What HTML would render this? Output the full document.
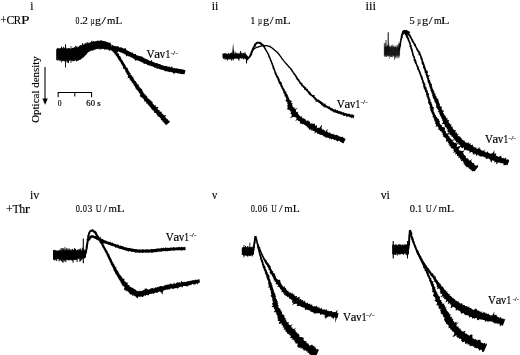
<!DOCTYPE html>
<html><head><meta charset="utf-8"><style>
html,body{margin:0;padding:0;background:#fff;}
body{width:520px;height:355px;overflow:hidden;}
svg{display:block;filter:grayscale(1) blur(0.3px);}
text{fill:#000;}
</style></head><body>
<svg width="520" height="355" viewBox="0 0 520 355" font-family="Liberation Serif, serif">
<rect width="520" height="355" fill="#fff"/>
<g fill="#000" stroke="none">
<path d="M110.33,49.24 L110.90,49.37 L111.18,50.34 L111.92,49.95 L112.39,50.44 L112.97,50.69 L113.75,50.37 L114.08,51.71 L114.88,51.32 L115.52,51.51 L116.24,51.34 L116.55,52.82 L117.35,52.20 L118.17,51.53 L118.78,51.60 L119.33,51.85 L119.93,51.98 L120.41,52.49 L121.13,52.39 L121.74,52.59 L122.21,53.16 L122.86,53.32 L123.57,53.37 L124.03,54.00 L124.59,54.19 L125.16,54.37 L125.64,54.74 L126.05,55.26 L125.96,56.84 L127.19,55.68 L127.81,55.80 L128.25,56.29 L128.81,56.52 L129.49,56.50 L130.16,56.53 L130.43,57.31 L131.00,57.58 L131.78,57.50 L132.37,57.79 L132.87,58.26 L133.54,58.40 L134.01,58.96 L134.49,59.51 L135.17,59.57 L135.21,61.14 L136.22,60.33 L136.88,60.32 L137.51,60.38 L138.07,60.55 L138.66,60.66 L139.08,61.16 L139.75,61.09 L140.26,61.41 L140.82,61.63 L141.37,61.89 L141.73,62.58 L142.51,62.34 L143.00,62.76 L143.58,62.98 L143.68,64.34 L144.67,63.77 L145.37,63.86 L146.06,63.99 L146.76,64.07 L147.09,65.09 L147.87,64.97 L148.48,65.29 L148.99,65.87 L149.84,65.53 L150.52,65.66 L151.14,65.92 L151.75,66.21 L152.46,66.22 L153.09,66.43 L153.57,67.07 L154.21,67.25 L154.69,67.91 L155.44,67.79 L156.24,67.51 L156.60,68.53 L157.11,69.07 L158.01,68.46 L158.69,68.51 L159.17,69.14 L159.92,68.93 L160.43,69.45 L161.12,69.50 L161.63,70.07 L162.43,69.82 L163.05,70.11 L163.69,70.36 L164.31,70.67 L164.99,70.77 L165.52,71.39 L166.28,71.14 L166.94,71.26 L167.57,71.47 L168.27,71.40 L168.81,72.00 L169.43,72.29 L170.20,71.87 L170.83,72.11 L171.45,72.36 L172.15,72.15 L172.77,72.38 L173.27,73.34 L173.87,73.76 L174.59,73.45 L175.35,72.84 L176.01,72.85 L176.65,73.00 L177.26,73.20 L177.85,73.48 L178.45,73.54 L179.05,73.48 L179.62,73.59 L180.19,73.78 L180.75,74.03 L181.35,74.15 L182.05,73.83 L182.60,74.28 L183.32,73.99 L183.93,74.20 L184.59,74.19 L185.46,69.96 L184.83,69.89 L184.16,70.01 L183.55,69.83 L182.95,69.54 L182.35,69.22 L181.68,69.21 L181.03,69.00 L180.32,69.17 L179.70,68.72 L179.00,68.96 L178.35,68.92 L177.75,68.52 L177.15,68.26 L176.54,68.23 L175.88,68.71 L175.35,68.21 L174.79,67.86 L174.10,68.24 L173.45,68.35 L172.93,67.80 L172.35,67.55 L172.07,65.82 L171.14,67.38 L170.57,67.09 L169.85,67.47 L169.50,66.31 L168.72,66.87 L168.17,66.51 L167.53,66.53 L166.87,66.56 L166.44,65.77 L165.72,66.01 L165.06,66.06 L164.40,66.05 L163.87,65.62 L163.16,65.68 L162.66,65.13 L161.94,65.16 L161.33,64.90 L160.78,64.43 L160.09,64.36 L159.49,64.09 L158.81,64.04 L158.24,63.66 L157.62,63.46 L157.04,63.11 L156.43,62.88 L155.65,63.13 L155.11,62.69 L154.41,62.68 L154.04,61.75 L153.18,62.21 L152.70,61.62 L151.94,61.79 L152.00,59.76 L150.96,60.67 L150.11,61.04 L149.53,60.71 L148.93,60.42 L148.39,60.00 L147.98,59.25 L147.08,59.68 L146.66,58.96 L145.85,59.19 L145.48,58.55 L144.94,58.32 L144.19,58.54 L143.80,57.95 L143.31,57.55 L142.79,57.21 L142.29,56.82 L141.71,56.60 L141.22,56.14 L140.51,56.19 L139.78,56.34 L139.29,55.94 L138.65,55.93 L138.21,55.44 L137.58,55.44 L137.05,55.24 L136.39,55.32 L136.09,54.63 L135.83,53.90 L135.21,53.86 L134.32,54.24 L133.80,53.90 L133.30,53.49 L132.86,52.96 L132.50,52.26 L131.54,52.64 L130.95,52.35 L130.40,52.02 L129.83,51.76 L129.21,51.58 L128.74,51.11 L128.08,51.02 L127.61,50.56 L126.95,50.48 L126.51,49.92 L126.01,49.51 L125.81,48.24 L125.03,48.28 L124.19,48.46 L123.40,48.53 L122.84,48.01 L121.96,48.34 L121.71,46.95 L120.74,47.52 L120.05,47.29 L119.24,47.50 L118.67,46.89 L118.25,45.67 L117.38,46.51 L116.81,46.22 L116.22,46.18 L115.61,46.37 L115.00,46.28 L114.56,45.71 L113.84,46.06 L113.32,45.82 L112.91,45.23 L112.45,44.74 L111.66,45.21Z"/>
<path d="M110.27,49.87 L110.87,50.23 L111.48,50.54 L111.91,51.03 L112.45,51.37 L112.96,51.79 L113.42,52.16 L113.56,52.86 L114.27,53.10 L114.64,53.63 L114.44,54.59 L115.57,54.50 L115.76,55.08 L115.80,55.74 L116.31,56.08 L116.83,56.44 L117.13,56.96 L117.16,57.65 L117.86,57.93 L117.95,58.57 L118.12,59.18 L118.57,59.63 L118.99,60.13 L119.38,60.70 L119.73,61.22 L119.98,61.83 L120.56,62.26 L120.90,62.86 L120.90,63.67 L121.34,64.21 L121.95,64.64 L121.86,65.38 L122.62,65.61 L122.79,66.19 L122.99,66.75 L122.88,67.51 L123.29,67.98 L123.00,68.88 L124.46,68.80 L124.71,69.27 L124.61,69.93 L125.20,70.22 L125.41,70.73 L125.29,71.44 L125.64,71.93 L125.99,72.46 L126.25,73.09 L126.82,73.60 L126.67,74.59 L127.21,74.87 L127.99,75.04 L128.02,75.68 L127.53,76.67 L128.28,76.93 L127.44,78.17 L129.44,77.71 L129.54,78.41 L129.28,79.35 L130.11,79.62 L130.01,80.46 L131.10,80.56 L131.20,81.27 L131.78,81.67 L131.57,82.57 L132.45,82.74 L132.82,83.28 L133.19,83.83 L133.38,84.50 L134.03,84.85 L133.74,85.87 L134.80,85.91 L134.84,86.68 L135.42,87.05 L135.18,88.02 L135.69,88.42 L136.05,88.91 L136.40,89.39 L136.90,89.76 L137.32,90.15 L137.58,90.65 L137.99,91.18 L138.60,91.55 L138.83,92.16 L138.85,92.89 L139.63,93.11 L139.57,93.87 L140.11,94.23 L140.43,94.74 L139.66,96.00 L140.20,96.38 L140.81,96.72 L141.35,97.11 L141.63,97.69 L142.49,97.82 L142.74,98.41 L143.24,98.80 L143.73,99.19 L143.96,99.79 L144.34,100.28 L144.23,101.15 L144.57,101.66 L145.64,101.57 L146.04,102.04 L146.33,102.59 L146.25,103.45 L146.87,103.74 L147.69,103.86 L147.76,104.61 L148.37,104.90 L148.68,105.45 L149.16,105.86 L149.53,106.36 L149.82,106.94 L150.33,107.33 L150.71,107.84 L151.24,108.22 L151.34,109.00 L151.76,109.50 L152.52,109.68 L152.57,110.52 L153.51,110.52 L153.78,111.16 L154.18,111.67 L153.99,112.75 L154.92,112.76 L155.55,113.05 L156.10,113.42 L156.55,113.88 L156.80,114.48 L157.03,115.12 L157.58,115.44 L157.69,116.19 L158.06,116.69 L159.01,116.61 L159.27,117.20 L159.99,117.35 L160.22,117.95 L160.57,118.42 L161.13,118.69 L160.81,119.73 L161.12,120.17 L161.95,120.30 L162.61,120.58 L162.15,121.74 L163.50,121.47 L163.66,122.15 L163.54,123.03 L164.59,123.02 L164.65,123.78 L165.02,124.31 L165.76,124.56 L165.88,125.30 L169.37,122.58 L169.84,121.40 L169.56,120.84 L168.75,120.66 L168.26,120.23 L168.07,119.57 L167.28,119.35 L167.15,118.62 L166.21,118.51 L165.74,118.01 L165.62,117.21 L165.12,116.71 L166.32,114.82 L164.64,115.50 L164.14,115.11 L163.31,115.03 L163.19,114.29 L162.61,113.99 L162.13,113.60 L161.62,113.23 L161.71,112.28 L161.63,111.51 L160.61,111.66 L159.90,111.51 L159.40,111.17 L159.63,110.05 L158.78,109.96 L158.06,109.75 L157.71,109.19 L157.60,108.39 L158.48,106.67 L157.21,107.00 L156.00,107.28 L155.79,106.60 L155.80,105.75 L155.78,104.94 L154.32,105.43 L153.90,104.98 L153.67,104.37 L153.22,103.96 L152.64,103.66 L152.72,102.78 L152.60,102.09 L152.09,101.74 L151.36,101.57 L151.48,100.69 L150.40,100.81 L150.50,99.94 L149.98,99.59 L149.09,99.54 L149.04,98.80 L148.15,98.75 L147.84,98.23 L147.49,97.75 L147.13,97.27 L147.39,96.31 L146.52,96.25 L146.41,95.59 L145.65,95.42 L145.64,94.69 L144.92,94.48 L144.58,94.01 L144.15,93.60 L143.76,93.17 L143.52,92.63 L143.11,92.21 L143.25,91.40 L142.49,91.18 L142.24,90.61 L142.30,89.81 L142.10,89.15 L141.52,88.72 L140.67,88.46 L140.34,87.98 L140.08,87.43 L139.41,87.18 L139.17,86.60 L139.17,85.83 L138.54,85.52 L138.35,84.88 L138.54,83.95 L137.11,84.21 L136.83,83.62 L137.02,82.70 L136.38,82.38 L135.72,82.07 L136.03,81.09 L134.96,81.05 L134.81,80.44 L134.19,80.11 L134.16,79.38 L133.83,78.84 L133.66,78.18 L132.88,77.90 L133.72,76.61 L132.06,76.87 L131.91,76.21 L131.77,75.55 L131.57,74.95 L130.72,74.75 L130.40,74.26 L130.59,73.48 L130.54,72.88 L129.66,72.81 L129.60,71.97 L129.13,71.43 L128.66,70.95 L128.35,70.41 L128.41,69.71 L127.91,69.35 L127.88,68.74 L127.58,68.28 L127.31,67.80 L126.55,67.59 L126.20,67.02 L125.90,66.45 L125.72,65.83 L125.40,65.32 L125.16,64.77 L124.76,64.32 L124.33,63.89 L124.19,63.27 L123.99,62.58 L123.34,62.15 L123.02,61.53 L122.78,60.87 L122.41,60.30 L121.88,59.87 L121.73,59.23 L121.22,58.74 L121.14,58.03 L120.67,57.59 L120.68,56.86 L120.18,56.45 L119.74,56.01 L119.23,55.61 L118.89,55.12 L119.08,54.28 L118.92,53.64 L117.95,53.53 L117.58,52.99 L117.33,52.35 L117.23,51.55 L116.48,51.26 L115.86,50.88 L115.41,50.37 L114.91,49.93 L114.41,49.35 L114.03,48.70 L113.48,48.27 L113.12,47.68 L112.58,47.30Z"/>
<path d="M248.71,59.11 L249.08,58.64 L249.54,58.26 L249.90,57.72 L250.50,57.26 L250.91,56.54 L251.22,56.03 L251.46,55.47 L252.00,55.02 L252.05,54.33 L252.18,53.68 L252.40,53.06 L252.68,52.48 L252.99,51.93 L253.05,51.27 L253.30,50.68 L253.71,50.16 L253.79,49.50 L254.03,48.90 L254.47,48.39 L254.58,47.74 L254.79,47.13 L253.13,46.43 L252.74,46.96 L252.66,47.62 L252.14,48.10 L252.10,48.78 L251.59,49.26 L251.64,49.97 L251.47,50.59 L250.81,50.99 L250.79,51.68 L250.53,52.28 L250.42,52.95 L250.12,53.51 L249.88,54.08 L249.62,54.61 L249.47,55.14 L249.17,55.51 L248.88,56.13 L248.50,56.57 L248.14,57.00 L247.73,57.44 L247.36,57.95Z"/>
<path d="M254.84,47.29 L255.12,46.69 L256.21,46.50 L255.91,45.59 L256.15,45.05 L256.61,44.76 L256.62,44.29 L257.11,43.98 L257.55,43.69 L258.05,43.68 L258.48,43.73 L258.88,43.70 L259.27,43.99 L259.93,43.96 L260.40,44.53 L260.64,45.04 L261.37,44.96 L261.67,45.48 L262.29,45.65 L262.71,46.05 L263.04,46.50 L263.27,46.98 L263.51,47.49 L263.82,48.02 L264.25,48.55 L264.47,49.22 L264.87,49.85 L265.27,50.37 L265.61,50.92 L265.95,51.48 L266.22,52.09 L266.64,52.61 L267.00,53.19 L267.31,53.80 L267.55,54.29 L267.78,54.81 L268.00,55.35 L268.04,55.98 L268.38,56.50 L268.42,57.14 L268.83,57.64 L269.18,58.17 L269.41,58.75 L269.59,59.33 L269.81,59.89 L269.88,60.51 L270.05,61.09 L270.34,61.62 L270.73,62.11 L271.02,62.66 L271.04,63.32 L271.35,63.89 L271.60,64.42 L271.74,65.02 L271.92,65.61 L272.24,66.16 L272.51,66.74 L272.27,67.50 L272.55,68.09 L272.92,68.64 L273.34,69.16 L273.35,69.81 L273.74,70.34 L273.86,70.87 L274.12,71.32 L274.28,71.80 L274.25,72.40 L274.62,72.92 L274.46,73.77 L275.24,74.38 L275.29,75.50 L275.90,75.72 L275.71,76.34 L276.23,76.68 L276.42,77.19 L276.41,77.84 L277.07,78.20 L277.29,78.79 L277.44,79.43 L277.74,80.02 L277.74,80.76 L278.13,81.33 L278.37,81.97 L278.62,82.61 L278.82,83.28 L279.04,83.93 L279.78,84.32 L280.17,84.87 L280.24,85.55 L280.40,86.18 L280.65,86.74 L281.17,87.14 L281.41,87.64 L281.46,88.21 L281.60,88.69 L282.20,89.35 L282.50,90.08 L282.70,90.81 L283.18,91.33 L283.31,91.99 L283.39,92.65 L283.76,93.11 L283.80,93.73 L284.52,93.95 L284.61,94.51 L283.84,95.50 L285.18,95.44 L284.36,96.43 L285.58,96.55 L285.52,97.22 L285.86,97.73 L286.17,98.24 L286.09,98.90 L286.59,99.35 L285.53,100.35 L285.60,100.97 L286.66,101.23 L286.31,102.02 L287.25,102.33 L287.58,102.87 L287.15,103.66 L287.30,104.20 L288.08,104.50 L287.67,105.26 L287.04,106.12 L287.46,106.63 L288.05,107.10 L287.26,108.21 L287.34,109.02 L287.64,109.78 L289.40,109.74 L289.68,110.55 L290.13,110.93 L290.26,111.53 L291.44,111.44 L290.77,112.65 L290.30,113.76 L291.07,114.02 L291.65,114.42 L291.70,115.23 L291.73,116.07 L289.70,118.54 L292.66,117.11 L294.31,116.67 L294.70,117.23 L295.58,117.35 L296.14,117.73 L296.58,118.19 L296.45,119.14 L295.03,121.35 L297.56,119.76 L297.95,120.47 L298.52,120.97 L299.43,121.01 L299.82,121.64 L300.18,122.31 L299.82,124.02 L300.93,123.55 L301.58,123.69 L302.47,123.40 L302.32,124.76 L303.51,123.94 L303.91,124.36 L304.27,124.83 L304.83,125.02 L305.33,125.33 L305.76,125.76 L306.28,126.07 L306.86,126.31 L306.83,127.38 L307.84,127.05 L308.03,127.84 L308.44,128.35 L308.97,128.71 L308.93,129.94 L310.21,129.21 L310.93,129.32 L310.66,131.03 L312.20,129.80 L312.41,130.70 L313.10,130.80 L313.72,130.99 L314.30,131.28 L314.85,131.64 L314.53,133.70 L315.84,132.56 L316.74,132.20 L317.18,132.79 L317.37,133.88 L318.00,134.09 L318.89,133.69 L319.34,134.22 L319.76,134.83 L320.43,134.86 L321.19,134.68 L321.68,135.11 L322.34,135.16 L323.03,135.13 L323.31,136.05 L323.81,136.46 L324.38,136.70 L325.14,136.51 L325.60,137.03 L325.77,138.27 L326.72,137.58 L327.45,137.43 L327.99,137.73 L328.60,137.89 L329.33,137.70 L329.45,139.53 L330.59,138.29 L331.01,139.31 L331.66,139.53 L332.57,138.81 L333.16,139.19 L333.74,139.55 L334.19,140.37 L334.98,139.84 L335.65,139.70 L335.99,140.63 L336.62,140.45 L337.00,140.96 L337.23,141.73 L338.15,141.02 L338.97,140.62 L339.50,140.89 L339.90,141.40 L340.40,141.66 L340.84,142.05 L341.25,142.51 L342.05,142.24 L342.30,143.06 L342.96,143.15 L343.56,143.35 L345.91,138.51 L345.04,138.94 L344.56,138.64 L344.42,137.65 L343.64,137.90 L343.19,137.47 L342.88,136.70 L342.16,136.70 L341.31,136.93 L340.59,136.86 L339.88,136.71 L339.38,135.93 L338.64,136.13 L338.18,135.48 L337.51,135.46 L337.10,134.54 L336.30,134.99 L335.57,135.19 L335.05,134.59 L334.34,134.74 L333.64,134.85 L333.38,133.39 L332.58,133.93 L331.94,133.91 L331.24,134.11 L330.77,133.62 L330.57,132.49 L329.62,133.42 L329.53,132.02 L328.60,132.80 L328.12,132.44 L327.65,132.04 L327.12,131.76 L327.74,128.79 L326.46,130.31 L325.19,131.74 L324.76,131.23 L324.74,129.78 L323.85,130.32 L323.65,129.27 L322.68,129.94 L322.28,129.35 L322.03,128.41 L321.33,128.43 L322.03,125.49 L321.55,125.07 L319.31,128.35 L319.12,127.32 L317.98,128.24 L317.41,127.98 L317.02,127.41 L316.95,126.24 L317.10,124.72 L315.68,126.12 L315.17,125.85 L315.08,124.91 L314.95,124.01 L314.72,123.33 L313.46,124.24 L313.25,123.53 L312.17,124.09 L312.34,122.83 L311.03,123.65 L310.31,123.62 L309.87,123.21 L310.18,121.75 L309.56,121.57 L308.79,121.57 L308.20,121.31 L308.56,119.67 L306.76,121.13 L306.39,120.51 L305.83,120.24 L305.42,119.76 L305.40,118.68 L304.51,119.04 L304.07,118.69 L303.64,118.34 L302.94,118.40 L302.47,118.10 L302.31,117.41 L301.77,117.19 L301.93,116.17 L300.87,116.41 L300.06,116.54 L300.00,115.87 L299.40,115.66 L299.18,115.08 L298.72,114.69 L298.38,114.18 L297.77,113.87 L298.54,112.45 L297.38,112.56 L297.47,111.69 L296.16,111.89 L296.01,111.21 L296.00,110.46 L295.75,109.90 L297.77,107.77 L294.72,109.20 L294.41,108.75 L295.23,107.60 L294.61,107.47 L293.25,107.49 L292.97,106.91 L292.52,106.46 L292.99,105.62 L292.02,105.44 L292.41,104.70 L292.01,104.27 L292.67,103.45 L292.03,103.08 L290.75,102.92 L291.45,102.00 L291.91,101.14 L291.15,100.80 L290.53,100.43 L289.90,100.05 L289.41,99.60 L289.24,99.03 L289.16,98.43 L289.01,97.84 L288.41,97.41 L288.21,96.81 L288.38,96.06 L287.88,95.56 L287.38,95.05 L287.58,94.29 L286.89,93.97 L286.56,93.50 L286.47,92.91 L286.09,92.48 L286.53,91.59 L285.41,91.54 L285.28,90.92 L284.79,90.47 L284.61,89.80 L284.59,89.00 L283.93,88.48 L283.48,87.77 L283.46,87.23 L282.91,86.92 L282.86,86.33 L282.53,85.83 L282.51,85.17 L281.92,84.76 L281.75,84.12 L282.20,83.17 L281.32,82.85 L281.64,81.95 L280.64,81.66 L280.21,81.11 L279.75,80.57 L279.80,79.80 L279.67,79.12 L279.02,78.69 L279.28,77.87 L278.82,77.39 L278.63,76.81 L277.93,76.50 L277.82,75.95 L277.52,75.51 L277.53,74.98 L277.14,74.67 L276.72,73.73 L276.49,72.91 L276.22,72.26 L275.87,71.76 L275.69,71.27 L275.40,70.85 L275.25,70.37 L275.02,69.86 L275.28,69.10 L274.61,68.70 L274.62,68.03 L274.37,67.45 L274.07,66.88 L274.14,66.18 L273.68,65.66 L273.44,65.07 L273.19,64.49 L273.03,63.90 L272.94,63.28 L272.52,62.74 L272.23,62.17 L272.05,61.57 L271.87,60.98 L271.58,60.45 L271.39,59.87 L271.13,59.33 L270.99,58.74 L270.82,58.16 L270.45,57.66 L270.23,57.09 L270.08,56.48 L269.68,55.98 L269.54,55.37 L269.46,54.73 L268.97,54.28 L269.30,53.47 L268.57,53.16 L268.13,52.56 L267.79,51.93 L267.41,51.35 L267.22,50.67 L266.84,50.14 L266.46,49.65 L266.20,49.11 L266.01,48.47 L265.54,47.96 L265.30,47.34 L265.00,46.74 L264.79,46.06 L264.28,45.57 L264.05,44.85 L263.50,44.41 L263.05,43.88 L262.43,43.60 L262.00,43.14 L261.47,42.87 L260.91,42.23 L260.20,41.81 L259.35,41.68 L258.51,41.67 L257.69,41.73 L256.85,41.87 L255.95,42.13 L255.37,42.91 L254.85,43.39 L254.06,43.72 L254.08,44.56 L253.74,45.16 L253.37,45.70 L253.02,46.22Z"/>
<path d="M252.92,50.93 L253.44,50.47 L253.92,49.97 L254.40,49.50 L255.04,49.30 L255.35,48.74 L255.85,48.47 L256.38,48.28 L256.93,48.07 L257.51,47.77 L258.28,47.85 L258.86,47.58 L259.43,47.22 L260.09,47.12 L260.72,46.86 L261.41,46.76 L262.09,46.51 L262.65,46.40 L263.29,46.42 L263.94,46.44 L264.61,46.54 L265.26,46.55 L265.90,46.28 L266.49,46.36 L267.02,46.42 L267.63,46.56 L268.15,46.71 L268.61,46.88 L269.11,46.98 L269.60,47.26 L270.22,47.50 L270.59,47.93 L271.18,48.08 L271.62,48.53 L272.17,48.88 L272.69,49.29 L273.13,49.83 L273.66,50.26 L274.21,50.67 L274.74,50.98 L275.15,51.42 L275.68,51.74 L276.06,52.22 L276.53,52.64 L277.01,53.07 L277.38,53.66 L277.92,54.13 L278.42,54.71 L278.71,55.13 L278.98,55.60 L279.42,55.96 L279.74,56.45 L280.16,56.88 L280.48,57.40 L280.87,57.89 L281.03,58.54 L281.35,59.10 L281.92,59.49 L282.29,60.01 L282.63,60.57 L283.05,61.05 L283.56,61.46 L283.96,61.97 L284.35,62.51 L284.70,63.13 L285.24,63.59 L285.78,64.07 L286.19,64.65 L286.50,65.32 L287.08,65.72 L287.62,66.13 L288.02,66.63 L288.31,67.17 L288.59,67.67 L289.00,67.97 L289.44,68.19 L290.02,68.87 L290.14,69.38 L290.39,69.58 L290.67,69.93 L291.19,70.55 L291.27,71.08 L291.46,71.59 L292.08,71.86 L292.33,72.45 L292.73,72.98 L293.11,73.53 L293.42,74.16 L293.89,74.69 L294.26,75.28 L294.70,75.81 L295.03,76.40 L295.33,76.96 L295.78,77.44 L295.80,78.18 L296.15,78.68 L296.65,79.08 L296.67,79.79 L297.23,80.17 L297.79,80.56 L298.07,81.17 L298.52,81.71 L299.09,82.20 L299.39,82.95 L299.30,83.71 L299.88,83.96 L300.43,84.24 L300.77,84.72 L300.98,85.32 L301.23,85.90 L301.72,86.30 L302.39,86.56 L302.82,87.02 L302.97,87.74 L303.76,87.91 L304.07,88.51 L304.04,89.40 L304.55,89.83 L305.40,89.93 L305.83,90.42 L306.23,90.92 L306.69,91.31 L307.05,91.81 L307.59,92.14 L307.86,92.74 L308.25,93.22 L308.41,93.93 L308.90,94.33 L309.32,94.80 L309.83,95.20 L310.30,95.62 L310.85,95.96 L311.51,96.20 L311.89,96.72 L312.41,97.09 L312.83,97.58 L313.24,98.06 L313.76,98.44 L314.24,98.85 L314.36,99.70 L315.16,99.76 L315.64,100.22 L315.27,101.77 L316.41,101.42 L316.83,101.98 L317.83,101.77 L318.16,102.47 L318.77,102.76 L319.45,102.94 L319.86,103.48 L320.21,104.09 L320.84,104.28 L321.32,104.63 L321.63,105.21 L321.93,105.77 L322.52,105.86 L323.00,106.07 L323.60,106.71 L323.90,107.73 L325.27,106.97 L325.69,107.57 L326.40,107.63 L326.76,108.23 L327.38,108.34 L327.89,108.60 L328.30,109.06 L328.82,109.33 L329.48,109.42 L329.95,109.73 L330.30,110.21 L330.75,110.50 L331.19,110.87 L331.73,111.16 L332.46,111.16 L333.12,111.52 L333.68,112.38 L334.31,112.16 L334.64,112.82 L335.36,112.44 L335.89,112.67 L336.40,113.04 L336.95,113.34 L337.59,113.45 L338.26,113.45 L338.76,114.05 L339.58,113.65 L340.11,114.18 L340.73,114.41 L341.29,114.82 L342.06,114.55 L342.68,114.71 L343.05,115.66 L343.70,115.66 L344.30,115.91 L345.03,115.73 L345.75,115.56 L346.21,116.28 L346.59,117.29 L347.51,116.38 L348.18,116.38 L348.79,116.53 L349.34,116.94 L349.94,117.15 L350.55,117.34 L351.16,117.51 L351.63,118.17 L352.45,117.62 L352.97,118.08 L353.54,118.42 L354.45,115.22 L353.69,115.56 L353.30,114.61 L352.63,114.64 L352.06,114.29 L351.33,114.54 L350.63,114.69 L350.15,114.07 L349.57,113.77 L348.91,113.77 L348.23,113.84 L347.60,113.76 L346.94,113.74 L346.50,112.99 L345.74,113.33 L345.12,113.15 L344.56,112.82 L343.93,112.79 L343.49,112.06 L342.70,112.46 L342.23,111.76 L341.54,111.78 L340.85,111.79 L340.37,111.11 L339.72,111.01 L338.98,111.20 L338.41,110.88 L337.97,110.26 L337.42,109.99 L336.70,110.30 L336.14,110.22 L335.93,109.21 L335.36,109.32 L334.72,109.72 L334.10,109.14 L333.32,109.25 L332.93,108.70 L332.62,108.18 L332.04,108.22 L331.44,108.24 L331.24,107.55 L330.46,107.74 L330.02,107.21 L329.71,106.54 L329.37,105.96 L328.32,106.67 L328.09,105.92 L327.32,106.08 L327.02,105.40 L326.28,105.34 L325.73,104.91 L325.54,103.83 L324.75,103.51 L323.92,103.84 L323.50,103.51 L323.14,103.04 L322.82,102.49 L322.27,102.24 L321.87,101.75 L321.15,101.68 L320.87,100.97 L320.10,100.93 L319.72,100.35 L319.16,100.00 L318.70,99.52 L317.87,99.52 L317.32,99.16 L316.88,98.67 L316.30,98.37 L316.03,97.72 L315.49,97.40 L314.96,97.09 L314.62,96.54 L314.62,95.64 L314.42,94.97 L313.55,94.99 L312.70,94.99 L312.19,94.62 L311.68,94.24 L311.30,93.75 L310.85,93.32 L310.68,92.62 L310.29,92.14 L310.02,91.54 L309.22,91.46 L308.79,91.02 L308.33,90.62 L307.91,90.18 L307.99,89.29 L307.66,88.73 L306.70,88.75 L306.22,88.32 L306.07,87.59 L305.70,87.06 L304.88,86.93 L304.92,86.05 L304.03,85.98 L303.75,85.39 L303.17,85.07 L302.78,84.60 L302.41,84.13 L302.53,83.26 L301.80,83.12 L301.41,82.72 L301.12,82.26 L300.64,81.98 L300.27,81.30 L299.75,80.80 L299.62,80.06 L299.25,79.55 L298.82,79.10 L298.29,78.72 L298.06,78.15 L297.68,77.67 L297.54,77.02 L297.00,76.62 L296.81,75.94 L296.39,75.47 L295.93,74.98 L295.65,74.34 L295.14,73.84 L294.77,73.25 L294.32,72.72 L293.83,72.23 L293.68,71.53 L293.13,71.15 L292.94,70.57 L292.50,70.22 L292.31,69.78 L292.06,68.99 L291.68,68.70 L291.45,68.38 L290.96,68.10 L290.43,67.35 L290.09,67.03 L289.72,66.66 L289.38,66.21 L288.91,65.82 L288.50,65.33 L288.08,64.82 L287.58,64.34 L287.22,63.73 L286.70,63.25 L286.28,62.68 L285.77,62.20 L285.33,61.68 L284.84,61.23 L284.44,60.74 L284.08,60.24 L283.82,59.66 L283.37,59.21 L282.91,58.76 L282.62,58.18 L282.27,57.65 L281.86,57.17 L281.60,56.59 L281.18,56.13 L280.81,55.66 L280.49,55.16 L280.08,54.75 L279.89,54.18 L279.44,53.84 L278.90,53.27 L278.34,52.77 L278.36,51.78 L277.45,51.72 L276.93,51.32 L276.48,50.88 L276.15,50.32 L275.60,50.01 L275.07,49.67 L274.57,49.17 L274.08,48.65 L273.50,48.25 L272.93,47.85 L272.38,47.46 L271.94,46.94 L271.33,46.73 L270.80,46.48 L270.46,45.61 L269.64,45.81 L269.06,45.63 L268.49,45.45 L267.88,45.23 L267.20,45.02 L266.59,44.97 L265.94,45.01 L265.27,44.91 L264.57,45.08 L263.87,44.96 L263.19,45.20 L262.54,45.23 L261.89,45.12 L261.11,45.27 L260.36,45.48 L259.69,45.78 L259.04,46.03 L258.41,46.25 L257.77,46.31 L257.15,46.68 L256.44,46.65 L255.89,47.07 L255.29,47.38 L254.65,47.66 L254.05,48.08 L253.37,48.42 L253.01,49.06 L252.54,49.56 L252.08,50.07Z"/>
<path d="M400.10,50.57 L400.12,50.00 L400.13,49.48 L400.21,48.95 L400.25,48.35 L400.39,47.61 L400.77,47.18 L400.73,46.61 L400.92,46.04 L400.98,45.41 L401.22,44.79 L401.00,44.07 L401.15,43.42 L401.29,42.78 L401.44,42.17 L401.42,41.52 L401.56,40.88 L401.66,40.23 L401.90,39.60 L402.17,38.99 L402.16,38.34 L402.47,37.79 L403.15,37.37 L402.48,36.67 L402.86,35.88 L403.07,35.16 L403.41,34.58 L403.88,34.18 L403.91,33.84 L404.36,33.41 L404.96,34.62 L404.62,33.92 L405.08,33.77 L405.67,34.02 L406.25,34.20 L406.80,34.44 L407.34,34.34 L407.85,34.94 L408.80,34.68 L410.21,31.88 L409.43,31.54 L408.55,31.16 L407.91,30.48 L407.07,30.48 L406.40,29.80 L405.54,30.13 L404.59,29.84 L403.35,30.23 L402.12,31.17 L401.82,32.64 L401.62,33.32 L401.29,33.92 L401.25,34.66 L401.09,35.43 L400.70,36.23 L400.55,36.74 L400.58,37.35 L400.66,38.00 L400.46,38.62 L400.05,39.20 L400.27,39.93 L400.13,40.59 L399.73,41.18 L399.71,41.82 L399.68,42.47 L399.44,43.09 L399.34,43.76 L399.07,44.39 L399.13,45.07 L399.22,45.74 L398.90,46.30 L398.94,46.88 L398.86,47.39 L398.77,48.17 L398.62,48.80 L398.68,49.37 L398.61,49.88 L398.59,50.44Z"/>
<path d="M404.27,32.94 L404.42,33.60 L404.72,34.10 L404.88,34.63 L404.94,35.25 L405.81,35.55 L405.92,36.49 L405.85,36.99 L406.17,37.38 L406.41,37.84 L407.05,38.16 L406.91,38.83 L407.51,39.23 L407.44,39.90 L407.81,40.43 L407.95,41.07 L408.38,41.62 L408.63,42.25 L408.85,42.90 L409.05,43.57 L409.10,44.29 L409.49,44.72 L409.63,45.25 L409.76,45.80 L409.35,46.52 L409.89,46.97 L410.28,47.48 L410.27,48.12 L410.32,48.75 L410.77,49.27 L410.73,49.93 L411.06,50.49 L411.27,51.09 L411.43,51.70 L411.65,52.29 L411.76,52.91 L411.98,53.49 L412.00,54.13 L412.17,54.71 L412.37,55.27 L412.48,55.93 L412.83,56.50 L413.14,57.10 L413.40,57.71 L413.59,58.34 L413.76,58.98 L413.69,59.71 L413.39,60.51 L414.12,60.93 L414.72,61.39 L414.15,62.27 L414.62,62.75 L415.10,63.22 L415.17,63.82 L415.71,64.24 L415.81,64.80 L416.12,65.26 L416.09,66.06 L416.57,66.61 L416.78,67.24 L417.07,67.79 L416.99,68.47 L417.30,68.97 L417.12,69.67 L417.96,69.93 L418.16,70.47 L418.49,70.98 L418.40,71.67 L418.69,72.24 L419.04,72.72 L419.27,73.25 L419.25,73.88 L419.56,74.40 L419.80,74.95 L419.97,75.53 L420.20,76.10 L420.30,76.71 L420.30,77.37 L420.91,77.82 L420.95,78.48 L421.16,79.08 L421.44,79.66 L421.72,80.24 L421.92,80.81 L422.07,81.40 L422.22,82.00 L422.06,82.72 L422.60,83.20 L422.87,83.77 L422.90,84.43 L423.34,84.95 L423.24,85.66 L423.04,86.39 L423.46,86.91 L423.82,87.44 L423.26,88.29 L424.27,88.58 L423.91,89.34 L424.55,89.80 L424.99,90.31 L425.02,90.96 L424.94,91.63 L425.61,92.06 L425.87,92.61 L426.07,93.19 L426.02,93.84 L426.25,94.40 L426.34,95.01 L426.63,95.56 L426.12,96.36 L427.15,96.68 L427.32,97.28 L427.01,98.03 L427.52,98.53 L427.90,99.07 L427.74,99.78 L428.25,100.28 L428.25,100.94 L428.33,101.58 L428.15,102.30 L427.75,103.09 L428.60,103.50 L428.90,104.08 L429.21,104.65 L429.63,105.19 L429.67,105.85 L430.04,106.39 L429.61,107.18 L429.57,107.84 L430.31,108.28 L430.45,108.90 L430.10,109.67 L430.02,110.36 L431.11,110.70 L430.70,111.51 L431.61,111.90 L431.31,112.70 L431.78,113.24 L431.99,113.87 L432.45,114.42 L432.67,115.02 L432.85,115.64 L432.51,116.51 L432.68,117.17 L433.59,117.49 L433.99,118.04 L433.47,119.03 L434.18,119.43 L434.72,119.89 L433.94,121.01 L434.85,121.27 L435.41,121.68 L435.31,122.41 L435.47,122.98 L434.88,123.93 L436.08,124.13 L436.15,124.90 L435.98,125.77 L435.54,126.77 L437.83,126.21 L437.80,126.95 L437.88,127.62 L438.98,127.66 L437.97,129.02 L438.58,129.38 L439.06,129.85 L439.83,130.13 L440.01,130.80 L440.38,131.32 L441.36,131.37 L441.69,131.89 L441.60,132.73 L442.49,132.82 L442.76,133.40 L442.46,134.40 L442.61,135.08 L443.47,135.29 L442.73,136.44 L443.10,136.87 L444.27,136.81 L444.41,137.45 L444.92,137.87 L445.65,138.16 L445.87,138.79 L446.41,139.22 L445.98,140.28 L446.20,140.92 L446.12,141.77 L447.91,141.39 L448.31,141.90 L447.81,143.01 L448.99,143.01 L448.14,144.42 L449.63,144.15 L448.95,145.44 L449.78,145.64 L449.78,146.43 L451.22,146.16 L450.71,147.35 L450.68,148.19 L451.68,148.24 L452.35,148.56 L453.06,148.86 L453.56,149.33 L453.71,149.98 L453.32,151.08 L454.35,151.06 L453.02,152.95 L454.81,152.33 L455.66,152.46 L455.38,153.53 L455.11,154.60 L456.84,154.00 L457.18,154.56 L456.86,155.68 L457.62,155.88 L458.47,156.00 L458.61,156.71 L458.10,157.97 L459.61,157.49 L459.99,158.00 L459.91,158.91 L460.11,159.58 L461.46,159.28 L460.88,160.63 L461.20,161.21 L462.73,160.73 L463.10,161.25 L462.80,162.34 L463.78,162.29 L463.33,163.52 L464.43,163.30 L463.66,164.83 L464.79,164.54 L465.00,165.58 L465.79,165.95 L466.31,166.53 L466.59,167.34 L467.57,167.17 L468.47,167.01 L468.25,168.27 L469.45,167.63 L469.06,169.10 L469.72,169.28 L470.79,168.98 L470.39,170.53 L471.79,169.77 L471.62,171.03 L472.25,171.26 L473.05,171.25 L474.03,171.02 L474.44,171.51 L478.42,166.38 L477.83,166.11 L478.26,164.50 L476.27,166.05 L476.14,165.19 L475.00,165.63 L474.78,164.90 L474.33,164.46 L474.03,163.84 L474.11,162.69 L472.89,163.18 L472.24,162.99 L472.18,162.07 L471.57,161.94 L471.43,161.23 L471.16,160.71 L471.89,159.04 L469.23,161.07 L469.41,159.86 L468.50,160.14 L468.57,159.38 L468.45,158.78 L467.98,158.48 L467.31,158.32 L466.57,158.19 L465.91,157.96 L465.81,157.22 L466.01,156.22 L465.34,155.97 L464.92,155.49 L464.37,155.12 L463.87,154.71 L463.74,153.99 L463.60,153.29 L462.93,153.05 L463.68,151.60 L464.29,150.27 L462.35,151.08 L461.42,151.04 L460.94,150.61 L459.81,150.71 L459.46,150.18 L458.77,149.92 L458.67,149.19 L459.82,147.46 L462.05,144.88 L460.12,145.66 L457.87,146.69 L456.63,146.92 L457.16,145.65 L456.60,145.25 L458.62,142.88 L456.65,143.61 L455.95,143.37 L455.59,142.86 L454.68,142.78 L453.76,142.70 L454.08,141.70 L452.58,142.03 L452.73,141.15 L454.89,138.86 L452.33,139.88 L451.57,139.69 L451.27,139.16 L451.25,138.43 L450.13,138.40 L449.91,137.77 L449.38,137.34 L449.66,136.40 L448.67,136.25 L448.38,135.67 L448.08,135.10 L448.78,133.90 L449.52,132.67 L446.76,133.75 L446.47,133.22 L446.07,132.62 L445.70,132.03 L445.83,131.10 L445.17,130.78 L444.67,130.37 L444.79,129.51 L445.00,128.62 L444.90,127.98 L444.19,127.80 L444.50,126.92 L442.94,127.28 L442.70,126.73 L441.51,126.79 L442.18,125.68 L441.92,125.18 L441.07,125.02 L440.84,124.47 L439.99,124.26 L439.91,123.59 L439.64,123.00 L439.62,122.25 L439.91,121.29 L439.56,120.85 L438.76,120.61 L439.08,119.78 L438.84,119.21 L438.42,118.73 L437.61,118.44 L437.04,118.01 L437.22,117.20 L436.50,116.83 L435.77,116.46 L435.79,115.74 L435.98,114.96 L434.95,114.73 L435.17,113.97 L434.68,113.53 L434.40,112.96 L434.44,112.28 L433.84,111.83 L433.63,111.24 L433.60,110.59 L433.50,109.97 L433.56,109.30 L433.63,108.63 L434.05,107.85 L433.72,107.29 L432.76,106.91 L432.54,106.31 L432.35,105.69 L432.27,105.05 L432.12,104.43 L431.80,103.86 L431.18,103.39 L432.14,102.43 L430.86,102.15 L430.64,101.55 L430.39,100.96 L430.77,100.18 L430.46,99.61 L429.86,99.13 L429.86,98.46 L429.68,97.86 L429.34,97.30 L429.31,96.65 L428.86,96.13 L428.77,95.51 L428.98,94.80 L429.17,94.10 L429.03,93.50 L427.97,93.20 L428.07,92.53 L427.74,91.99 L427.78,91.33 L427.78,90.68 L427.21,90.22 L426.99,89.64 L426.51,89.13 L426.79,88.36 L426.77,87.72 L425.91,87.37 L425.79,86.76 L425.51,86.19 L425.25,85.61 L425.02,85.02 L425.87,84.05 L424.88,83.73 L424.69,83.12 L424.53,82.51 L424.06,82.01 L423.81,81.44 L423.71,80.82 L423.67,80.19 L423.09,79.76 L423.18,79.05 L423.13,78.40 L422.82,77.84 L422.50,77.29 L422.49,76.63 L422.24,76.06 L421.95,75.50 L421.64,74.96 L421.27,74.44 L421.39,73.76 L420.87,73.30 L420.90,72.66 L420.60,72.15 L420.34,71.62 L420.36,70.91 L419.86,70.43 L419.73,69.83 L419.35,69.35 L419.09,68.84 L419.09,68.21 L418.98,67.63 L418.75,67.09 L418.62,66.48 L418.08,66.01 L417.81,65.39 L417.51,64.73 L417.29,64.23 L417.10,63.71 L416.85,63.19 L416.72,62.61 L416.62,62.01 L416.37,61.44 L416.45,60.75 L416.03,60.23 L415.68,59.67 L415.53,59.04 L415.20,58.47 L414.92,57.87 L415.08,57.13 L414.77,56.54 L414.25,56.03 L414.15,55.37 L413.92,54.77 L413.79,54.20 L413.51,53.67 L413.48,53.05 L413.44,52.42 L413.12,51.87 L412.95,51.27 L412.70,50.69 L413.00,49.96 L412.79,49.36 L412.26,48.86 L412.15,48.24 L412.04,47.63 L411.75,47.07 L411.66,46.46 L411.77,45.81 L411.46,45.29 L411.11,44.80 L410.84,44.30 L410.79,43.74 L410.75,43.00 L410.40,42.37 L410.21,41.70 L409.84,41.10 L409.71,40.43 L409.45,39.83 L409.18,39.25 L409.11,38.61 L408.80,38.09 L408.48,37.59 L408.42,37.02 L408.09,36.58 L407.92,36.11 L407.93,35.58 L407.48,34.72 L407.05,34.06 L406.81,33.42 L406.39,33.00 L406.07,32.56 L406.11,31.83Z"/>
<path d="M406.98,34.06 L407.45,34.56 L407.82,35.12 L408.36,35.42 L408.80,35.88 L409.28,36.52 L409.33,37.02 L409.67,37.41 L410.04,37.85 L410.30,38.39 L410.82,38.82 L410.82,39.56 L411.22,40.11 L411.51,40.73 L411.61,41.46 L412.07,42.00 L412.22,42.58 L412.87,42.89 L413.22,43.37 L413.28,44.03 L413.56,44.57 L413.97,45.05 L414.16,45.66 L414.51,46.19 L414.80,46.74 L415.26,47.22 L415.47,47.83 L415.82,48.37 L416.16,48.86 L416.08,49.59 L416.54,50.02 L416.76,50.59 L417.06,51.11 L417.33,51.65 L417.73,52.12 L418.17,52.57 L418.36,53.15 L418.52,53.75 L418.68,54.35 L418.27,55.20 L419.45,55.33 L419.74,55.82 L419.97,56.35 L420.11,56.91 L420.39,57.43 L420.42,58.04 L420.24,58.73 L420.89,59.14 L421.13,59.69 L421.25,60.29 L421.40,60.89 L421.56,61.48 L421.70,62.10 L421.61,62.79 L421.52,63.49 L422.03,63.92 L422.26,64.43 L422.45,64.93 L422.95,65.32 L422.90,65.89 L423.01,66.41 L423.18,66.92 L422.74,67.64 L423.22,68.10 L423.74,68.59 L423.79,69.26 L424.22,69.86 L424.48,70.56 L424.71,71.34 L424.36,72.37 L425.04,72.66 L425.37,73.09 L425.54,73.60 L425.40,74.24 L425.59,74.79 L425.95,75.31 L425.91,75.97 L426.26,76.53 L426.55,77.12 L426.55,77.82 L427.06,78.36 L427.09,79.06 L427.46,79.66 L427.43,80.39 L427.71,81.03 L427.58,81.79 L427.86,82.42 L428.25,83.01 L428.57,83.61 L428.85,84.22 L429.06,84.83 L429.32,85.42 L429.20,86.12 L429.55,86.64 L429.78,87.18 L429.61,87.84 L430.09,88.24 L430.19,88.75 L430.58,89.13 L430.46,90.11 L430.71,90.89 L431.07,91.56 L431.28,92.23 L431.66,92.79 L431.81,93.39 L431.62,94.11 L432.54,94.34 L432.28,95.04 L431.86,95.80 L432.72,96.01 L432.67,96.61 L432.64,97.21 L433.04,97.65 L433.09,98.27 L433.26,98.85 L434.12,99.17 L434.04,99.84 L434.57,100.28 L433.75,101.24 L434.84,101.46 L434.99,102.04 L434.82,102.75 L435.59,103.10 L435.64,103.73 L436.14,104.19 L436.03,104.91 L436.18,105.53 L435.87,106.35 L436.70,106.71 L435.99,107.63 L436.85,107.92 L437.13,108.45 L437.37,109.01 L437.81,109.50 L438.33,109.96 L438.66,110.50 L438.11,111.42 L438.07,112.13 L439.37,112.26 L439.43,112.91 L439.02,113.78 L439.94,114.05 L439.66,114.84 L440.06,115.33 L440.29,115.88 L440.92,116.23 L440.87,117.02 L441.40,117.53 L441.25,118.37 L442.02,118.76 L442.37,119.35 L442.07,120.25 L442.56,120.75 L442.89,121.33 L442.97,122.01 L442.68,122.89 L441.26,124.36 L443.06,124.12 L444.37,124.07 L444.46,124.71 L444.60,125.54 L445.10,126.09 L444.38,127.45 L446.20,126.89 L446.10,127.71 L446.85,127.83 L446.87,128.51 L446.44,129.54 L447.95,129.16 L447.57,130.23 L447.49,130.89 L447.20,131.75 L448.23,131.81 L447.99,132.71 L449.66,132.45 L449.18,133.56 L449.49,134.18 L449.92,134.74 L450.45,135.24 L451.55,135.36 L451.26,136.36 L451.95,136.71 L452.87,136.85 L453.05,137.48 L453.37,138.22 L453.98,138.67 L454.40,139.24 L454.74,139.83 L454.82,140.65 L455.71,140.66 L456.21,141.02 L455.70,142.43 L456.37,142.61 L457.49,142.34 L457.70,143.08 L458.25,143.47 L459.00,143.63 L458.48,145.30 L459.97,144.59 L460.31,145.25 L460.35,146.33 L460.72,147.01 L461.26,147.49 L461.86,147.87 L462.44,148.15 L463.81,147.25 L463.93,148.17 L464.04,149.13 L464.01,150.37 L464.94,150.14 L466.03,149.65 L466.73,149.79 L466.80,151.09 L468.08,150.28 L468.51,151.07 L469.43,150.55 L469.36,152.02 L469.58,153.00 L470.68,152.15 L471.47,151.94 L472.19,151.89 L472.57,152.63 L472.87,153.54 L472.91,155.11 L474.50,153.02 L474.32,155.09 L475.55,153.82 L475.90,154.58 L476.23,155.37 L476.51,156.26 L478.08,154.21 L478.33,155.36 L478.96,155.52 L479.58,155.70 L479.89,156.65 L480.67,156.35 L481.22,156.63 L482.11,155.99 L482.57,156.55 L483.21,156.63 L483.84,156.79 L484.45,157.03 L484.94,157.66 L485.69,157.26 L485.75,158.80 L486.32,159.03 L487.08,158.77 L487.84,158.56 L488.53,158.53 L489.16,158.69 L489.66,159.22 L490.12,159.85 L490.43,160.84 L490.89,161.44 L491.12,162.65 L492.87,159.64 L493.10,160.72 L493.68,160.82 L494.32,160.67 L494.45,162.64 L495.47,161.99 L496.29,161.76 L496.18,164.26 L496.94,164.04 L498.23,162.10 L498.62,162.88 L499.40,162.40 L500.03,162.41 L500.36,163.24 L501.01,163.21 L501.78,162.89 L502.21,163.44 L502.92,163.31 L503.48,163.52 L503.48,165.14 L504.06,165.31 L504.75,165.23 L505.49,165.03 L506.34,164.57 L506.61,165.56 L507.54,164.91 L509.29,160.51 L508.76,160.20 L508.40,159.48 L507.96,158.97 L506.87,160.02 L506.44,159.46 L506.14,158.54 L505.83,157.62 L505.01,157.97 L503.95,158.94 L503.69,157.80 L502.93,157.97 L502.11,158.31 L501.65,157.70 L501.34,156.62 L501.07,155.42 L500.10,156.37 L499.44,156.36 L498.60,156.89 L497.96,156.73 L497.53,155.90 L496.89,155.64 L495.94,156.12 L496.18,153.86 L495.91,152.97 L494.83,154.26 L494.46,153.52 L494.28,152.22 L494.44,150.00 L492.57,153.22 L491.85,153.32 L490.96,153.88 L490.37,153.60 L489.68,153.62 L489.27,152.92 L488.66,152.76 L488.04,152.68 L488.06,150.91 L486.94,152.28 L486.15,152.43 L485.54,152.14 L485.13,151.37 L484.30,151.80 L484.62,149.12 L483.29,150.99 L482.68,150.91 L482.26,150.33 L481.63,150.29 L480.97,150.34 L480.58,149.65 L480.39,148.48 L479.54,148.88 L479.69,147.01 L478.76,147.72 L477.61,148.90 L477.03,148.68 L476.38,148.62 L476.24,147.37 L475.51,147.50 L474.75,147.68 L474.46,146.84 L473.59,147.28 L473.50,146.09 L472.76,146.31 L473.07,144.43 L472.33,144.75 L471.51,145.29 L470.98,144.88 L470.47,144.52 L470.60,143.10 L469.67,143.57 L468.69,144.11 L468.83,142.85 L468.61,142.20 L467.63,142.69 L466.54,143.30 L466.59,142.23 L465.67,142.55 L465.23,142.08 L464.67,141.79 L464.68,140.76 L464.07,140.56 L463.25,140.60 L463.01,139.94 L462.38,139.75 L461.88,139.40 L461.83,138.55 L461.20,138.34 L460.90,137.79 L460.41,137.48 L460.64,136.46 L459.41,136.96 L459.63,136.03 L458.77,136.13 L458.03,136.06 L457.56,135.69 L458.97,133.77 L456.95,134.52 L457.27,133.68 L456.86,133.31 L456.96,132.54 L455.73,132.61 L455.18,132.20 L455.79,131.02 L455.87,130.17 L454.39,130.29 L453.97,129.74 L453.51,129.23 L453.13,128.69 L452.54,128.30 L452.56,127.55 L452.90,126.58 L451.42,126.67 L451.04,126.08 L451.14,125.20 L451.67,124.03 L450.22,124.48 L449.95,124.05 L449.89,123.46 L449.45,123.15 L448.88,122.85 L448.87,122.09 L448.22,121.90 L448.95,120.88 L449.32,120.06 L447.79,120.22 L447.09,119.91 L447.71,118.91 L447.55,118.29 L446.08,118.30 L446.29,117.47 L445.55,117.09 L445.96,116.15 L445.03,115.84 L444.49,115.33 L444.42,114.61 L443.79,114.28 L443.88,113.60 L443.34,113.20 L443.09,112.66 L443.38,111.87 L444.12,110.87 L443.28,110.57 L442.09,110.40 L442.03,109.75 L442.31,108.95 L441.42,108.65 L441.54,107.93 L441.94,107.10 L441.71,106.54 L440.25,106.50 L440.16,105.89 L439.73,105.45 L439.85,104.70 L439.97,103.98 L439.52,103.49 L439.05,103.02 L439.03,102.38 L439.09,101.70 L438.57,101.27 L438.48,100.66 L438.59,99.98 L438.15,99.51 L438.18,98.85 L437.20,98.59 L436.79,98.10 L436.55,97.54 L436.74,96.80 L436.17,96.37 L435.63,95.97 L435.63,95.36 L435.70,94.74 L435.21,94.37 L435.75,93.56 L434.54,93.49 L434.80,92.79 L434.05,92.48 L434.02,91.84 L434.44,90.98 L433.56,90.60 L433.26,89.93 L433.14,89.12 L432.66,88.38 L432.24,88.02 L432.55,87.37 L432.25,86.91 L431.81,86.47 L432.01,85.79 L431.68,85.27 L432.11,84.46 L431.82,83.89 L430.77,83.57 L430.89,82.83 L430.52,82.24 L430.25,81.62 L429.80,81.05 L430.33,80.15 L429.40,79.74 L429.11,79.11 L429.19,78.36 L428.74,77.80 L428.70,77.10 L428.79,76.38 L430.21,75.22 L427.81,75.34 L428.04,74.61 L427.53,74.15 L427.43,73.57 L428.06,72.77 L427.95,72.24 L427.80,71.75 L427.67,71.29 L427.14,70.55 L426.23,70.00 L425.83,69.35 L426.09,68.54 L425.69,67.99 L425.38,67.44 L425.25,66.87 L425.34,66.26 L424.85,65.85 L424.67,65.35 L424.70,64.78 L424.51,64.28 L424.36,63.76 L424.02,63.28 L423.97,62.68 L423.80,62.07 L423.30,61.58 L423.10,60.99 L423.08,60.34 L422.78,59.79 L422.96,59.09 L422.56,58.58 L422.22,58.05 L422.25,57.40 L421.73,56.94 L421.88,56.25 L421.54,55.73 L421.12,55.25 L420.93,54.68 L420.97,53.96 L420.40,53.52 L420.24,52.88 L420.49,52.04 L419.54,51.83 L419.60,51.09 L419.13,50.65 L418.57,50.26 L418.33,49.70 L418.04,49.18 L417.87,48.60 L417.39,48.19 L417.14,47.66 L416.80,47.11 L416.55,46.53 L416.21,45.99 L415.98,45.39 L415.89,44.73 L415.85,44.04 L415.31,43.63 L414.83,43.19 L414.51,42.68 L414.42,42.05 L413.99,41.61 L413.68,41.13 L413.34,40.55 L413.14,39.88 L412.85,39.27 L412.38,38.75 L412.11,38.15 L411.85,37.56 L411.54,37.01 L411.33,36.44 L410.95,36.00 L410.85,35.38 L410.28,34.62 L409.60,34.12 L409.10,33.63 L408.73,33.11 L408.13,32.82Z"/>
<path d="M86.53,254.17 L86.60,253.55 L86.73,252.97 L86.93,252.40 L86.92,251.79 L87.16,251.20 L87.22,250.56 L87.28,249.87 L87.49,249.16 L87.66,248.60 L87.72,248.02 L87.86,247.44 L87.94,246.83 L87.90,246.20 L88.08,245.57 L87.95,244.90 L88.17,244.25 L88.30,243.58 L88.56,242.91 L88.63,242.19 L88.55,241.60 L88.81,241.03 L88.83,240.39 L89.08,239.77 L88.81,239.06 L89.22,238.44 L89.15,237.74 L89.27,237.08 L89.35,236.43 L89.53,235.82 L89.56,235.21 L89.69,234.65 L89.80,234.14 L89.93,233.69 L90.21,233.40 L90.33,232.56 L90.81,232.23 L91.26,232.07 L91.61,231.75 L92.11,231.36 L92.47,230.76 L91.05,229.36 L90.67,229.76 L90.23,230.02 L89.74,230.39 L89.26,230.98 L88.81,231.75 L88.22,232.61 L88.11,233.15 L88.05,233.69 L87.99,234.26 L87.63,234.80 L87.39,235.40 L87.11,236.02 L87.30,236.74 L87.30,237.44 L87.17,238.11 L87.04,238.78 L86.76,239.41 L86.73,240.07 L86.68,240.70 L86.75,241.31 L86.43,241.82 L86.48,242.58 L86.42,243.29 L86.01,243.94 L86.18,244.65 L85.88,245.28 L85.71,245.91 L85.62,246.53 L85.64,247.14 L85.73,247.74 L85.56,248.29 L85.67,248.87 L85.54,249.58 L85.10,250.19 L85.06,250.82 L84.07,251.26 L84.60,251.96 L84.82,252.61 L84.81,253.22 L84.70,253.83Z"/>
<path d="M91.01,230.97 L91.63,231.19 L92.19,231.44 L92.41,232.11 L92.96,232.25 L93.43,232.56 L93.89,233.04 L94.32,233.33 L94.64,233.79 L94.95,234.32 L95.25,234.89 L95.65,235.43 L96.20,235.89 L96.50,236.53 L96.65,237.27 L97.10,237.83 L97.62,238.19 L97.74,238.81 L98.15,239.27 L98.54,239.76 L98.75,240.37 L99.17,240.86 L99.24,241.54 L99.52,242.10 L99.87,242.63 L100.27,243.10 L100.53,243.65 L101.02,244.11 L101.31,244.67 L101.53,245.25 L101.84,245.79 L102.09,246.34 L102.30,246.92 L102.55,247.47 L103.03,247.90 L103.35,248.43 L103.62,248.98 L103.73,249.63 L104.13,250.08 L104.38,250.61 L104.76,251.06 L104.72,251.74 L105.24,252.13 L105.60,252.64 L105.81,253.26 L106.17,253.85 L106.57,254.47 L106.81,254.93 L106.79,255.55 L106.95,256.09 L107.44,256.50 L107.72,257.03 L107.81,257.67 L108.07,258.23 L108.36,258.80 L108.69,259.35 L108.78,260.03 L109.36,260.47 L109.62,261.07 L109.85,261.68 L109.89,262.38 L110.35,262.87 L110.62,263.40 L110.92,263.93 L110.79,264.66 L111.46,265.01 L111.69,265.57 L111.72,266.24 L112.24,266.67 L112.44,267.26 L112.83,267.76 L113.01,268.37 L113.19,268.97 L113.48,269.53 L113.50,270.23 L113.73,270.82 L114.11,271.34 L114.82,271.66 L115.02,272.27 L114.81,273.13 L115.63,273.40 L115.42,274.28 L116.33,274.50 L116.17,275.36 L117.02,275.62 L117.12,276.33 L117.38,276.93 L117.91,277.37 L118.10,278.00 L118.48,278.51 L118.68,279.12 L119.04,279.62 L119.26,280.19 L119.75,280.57 L120.22,281.09 L120.58,281.67 L120.59,282.49 L121.03,282.98 L121.39,283.52 L121.69,284.10 L121.79,284.82 L122.39,285.15 L122.55,285.81 L122.84,286.36 L123.79,286.36 L124.16,286.83 L124.57,287.26 L124.09,288.62 L123.81,289.86 L125.00,289.70 L124.84,290.84 L126.56,290.05 L126.03,291.56 L127.45,290.96 L127.84,291.46 L128.35,291.79 L128.58,292.43 L129.22,292.57 L129.53,293.42 L129.88,294.23 L130.56,294.58 L131.51,294.47 L132.27,294.58 L132.15,296.21 L133.40,295.31 L134.04,295.55 L134.82,296.22 L135.77,296.43 L136.56,297.48 L137.46,298.53 L138.47,296.55 L139.21,296.58 L139.99,297.05 L140.69,296.61 L141.42,296.52 L142.23,296.97 L142.99,297.06 L143.58,296.29 L144.08,295.52 L144.71,295.48 L145.59,296.46 L145.86,295.04 L146.54,295.10 L147.18,294.89 L148.05,295.24 L148.89,295.16 L149.16,294.21 L149.65,294.02 L150.23,294.07 L150.75,293.80 L151.47,294.22 L151.86,293.34 L152.55,293.51 L153.27,293.76 L153.99,294.00 L154.38,292.89 L155.00,292.68 L155.66,292.61 L156.35,292.63 L157.09,292.88 L157.63,292.30 L158.19,292.15 L158.67,291.65 L159.33,291.84 L159.77,291.19 L160.63,292.16 L161.32,292.45 L162.57,294.94 L162.69,292.94 L162.96,291.52 L163.36,290.57 L164.07,290.82 L164.53,290.04 L165.15,289.87 L165.85,290.04 L166.40,289.51 L167.08,289.46 L167.81,289.63 L168.35,289.50 L168.84,289.02 L169.58,289.71 L170.03,288.90 L170.58,288.52 L171.21,288.46 L171.80,288.18 L172.60,288.99 L173.31,289.27 L173.82,288.53 L174.40,288.13 L175.11,288.41 L175.69,288.03 L176.27,287.64 L177.05,288.35 L177.75,288.68 L178.25,288.04 L178.75,287.42 L179.32,287.23 L179.88,287.09 L180.36,286.63 L181.08,286.59 L181.92,287.21 L182.68,287.56 L183.02,285.88 L183.70,285.94 L184.39,286.10 L184.99,285.93 L185.66,286.10 L186.34,286.36 L186.99,286.48 L187.58,286.36 L188.19,286.31 L188.55,285.01 L189.29,285.61 L189.80,285.01 L190.44,285.09 L191.10,285.21 L191.59,284.49 L192.12,283.96 L192.76,284.01 L193.53,284.76 L193.99,283.91 L194.78,284.82 L195.34,284.48 L195.82,283.66 L196.34,283.13 L197.10,283.84 L197.89,284.77 L198.19,283.01 L198.79,282.84 L199.36,282.54 L200.01,282.70 L199.35,279.11 L198.75,279.27 L198.17,279.47 L197.58,279.69 L196.99,279.86 L196.38,279.93 L195.70,279.60 L195.09,279.71 L194.58,280.33 L193.96,280.33 L193.27,280.02 L192.76,280.62 L192.03,280.10 L191.53,280.83 L190.94,281.03 L190.21,280.57 L189.65,281.00 L189.09,281.37 L188.44,281.28 L187.77,281.08 L187.22,281.44 L186.66,281.77 L186.06,281.86 L185.47,282.05 L184.86,282.13 L184.09,281.46 L183.63,282.36 L182.92,282.10 L182.21,281.85 L181.29,280.61 L181.01,282.68 L180.29,282.62 L179.48,282.17 L178.84,281.81 L178.50,283.01 L177.78,282.43 L177.16,282.34 L176.60,282.71 L176.07,283.26 L175.55,283.90 L174.84,283.57 L173.97,282.44 L173.55,283.70 L172.91,283.79 L172.36,284.39 L171.65,284.08 L170.88,283.52 L170.21,283.42 L169.74,284.33 L169.13,284.48 L168.53,284.60 L167.92,284.66 L167.28,284.47 L166.77,284.85 L166.09,285.00 L165.45,285.30 L164.63,284.76 L164.21,285.88 L163.60,286.14 L162.89,285.96 L162.36,286.47 L161.57,285.89 L160.90,285.77 L160.38,286.24 L159.74,286.16 L159.27,286.76 L158.60,286.56 L158.17,287.28 L157.51,287.04 L156.94,287.15 L156.47,287.71 L155.75,287.57 L155.00,287.30 L154.53,288.16 L153.91,288.43 L153.23,288.46 L152.37,287.77 L151.89,288.47 L151.08,287.91 L150.57,288.41 L150.20,289.38 L149.46,288.85 L149.07,289.63 L148.49,289.57 L147.95,289.54 L147.38,289.32 L146.20,288.24 L145.53,288.76 L144.72,288.42 L144.54,290.10 L143.84,289.65 L143.46,290.30 L142.85,289.95 L142.50,290.93 L141.78,290.73 L141.16,290.98 L140.56,291.19 L139.85,290.23 L139.47,291.52 L138.93,290.75 L138.53,291.48 L137.96,290.59 L137.41,291.40 L137.12,290.81 L136.80,290.50 L136.07,290.77 L135.96,290.16 L135.77,289.61 L135.08,289.87 L134.98,289.09 L134.19,289.32 L133.79,288.89 L133.52,288.24 L132.83,288.07 L132.42,287.82 L132.14,287.36 L131.02,287.84 L130.93,287.12 L130.41,286.87 L129.83,286.64 L129.62,286.02 L129.41,285.41 L129.05,284.93 L128.15,284.94 L127.66,284.55 L127.47,284.01 L127.64,283.17 L127.49,282.59 L127.15,282.17 L125.77,282.53 L125.49,282.02 L125.41,281.35 L124.47,281.29 L124.27,280.68 L124.71,279.60 L124.28,279.13 L123.77,278.69 L122.93,278.45 L122.26,278.22 L122.15,277.61 L121.77,277.15 L121.55,276.58 L121.12,276.12 L120.62,275.70 L120.50,275.03 L119.90,274.65 L119.45,274.17 L119.21,273.56 L119.01,272.94 L118.53,272.47 L118.34,271.84 L118.11,271.24 L117.53,270.85 L117.43,270.20 L116.81,269.85 L116.68,269.22 L116.32,268.72 L116.21,268.08 L116.43,267.27 L115.55,267.05 L115.18,266.55 L114.91,266.00 L114.60,265.47 L114.64,264.77 L113.93,264.45 L113.83,263.82 L113.40,263.36 L113.24,262.77 L112.80,262.32 L112.62,261.74 L112.26,261.22 L111.98,260.64 L111.84,260.00 L111.63,259.38 L111.29,258.83 L110.92,258.29 L110.58,257.75 L110.40,257.13 L110.01,256.62 L109.95,255.97 L109.44,255.54 L109.54,254.84 L109.35,254.29 L108.77,253.95 L108.59,253.44 L108.09,252.85 L107.81,252.20 L107.69,251.52 L107.24,251.04 L107.06,250.44 L106.71,249.97 L106.31,249.53 L106.08,248.99 L105.91,248.41 L105.46,247.97 L105.18,247.42 L105.08,246.77 L104.50,246.40 L104.40,245.76 L104.01,245.28 L103.75,244.72 L103.42,244.20 L103.11,243.66 L102.87,243.06 L102.34,242.62 L102.19,242.02 L102.05,241.40 L101.69,240.89 L101.41,240.32 L101.09,239.77 L100.67,239.27 L100.19,238.81 L99.84,238.28 L99.60,237.69 L99.27,237.17 L99.05,236.61 L98.58,236.05 L98.18,235.45 L97.81,234.84 L97.51,234.18 L97.00,233.68 L97.15,232.73 L96.51,232.37 L96.40,231.63 L95.81,231.28 L95.05,230.83 L94.24,230.60 L93.84,230.01 L93.38,229.60 L92.93,229.27 L92.33,229.12Z"/>
<path d="M89.31,241.06 L89.64,240.44 L89.87,239.75 L90.62,239.40 L90.54,238.67 L91.15,238.57 L91.45,237.91 L91.83,237.77 L92.07,237.65 L92.18,238.00 L92.73,237.70 L93.37,238.05 L94.09,238.61 L94.73,238.52 L95.19,238.99 L95.86,239.12 L96.37,239.64 L97.15,239.68 L97.66,240.24 L98.35,240.39 L98.92,240.73 L99.53,240.93 L100.07,241.29 L100.64,241.58 L101.29,241.70 L101.67,242.49 L102.22,242.89 L102.76,243.25 L103.24,243.65 L103.92,243.55 L104.57,243.57 L105.30,243.56 L106.10,243.63 L106.92,244.01 L107.40,244.18 L107.96,244.28 L108.43,244.72 L108.99,244.99 L109.66,245.04 L110.25,245.37 L110.88,245.63 L111.57,245.75 L112.20,246.04 L112.86,246.25 L113.55,246.32 L114.15,246.62 L114.77,246.80 L115.19,247.45 L115.79,247.67 L116.52,247.48 L117.16,247.55 L117.67,247.96 L118.26,248.13 L118.73,248.61 L119.28,248.87 L119.94,248.81 L120.54,248.92 L121.14,248.99 L121.70,249.16 L122.27,249.31 L122.78,249.65 L123.42,249.83 L124.06,249.88 L124.61,250.20 L125.18,250.40 L125.78,250.49 L126.36,250.72 L127.01,250.67 L127.61,250.96 L128.14,251.79 L128.98,251.24 L129.77,251.11 L130.24,251.61 L130.83,251.56 L131.42,251.67 L131.96,252.12 L132.65,251.80 L133.31,251.75 L133.94,251.92 L134.58,252.13 L135.21,252.49 L135.85,252.83 L136.56,252.62 L137.26,252.40 L137.91,252.70 L138.61,252.39 L139.23,253.03 L139.91,252.74 L140.56,252.76 L141.21,252.54 L141.85,252.64 L142.49,252.95 L143.13,252.95 L143.77,252.51 L144.41,252.55 L145.05,252.71 L145.68,252.56 L146.32,252.77 L146.95,252.74 L147.57,252.50 L148.22,252.80 L148.85,252.90 L149.47,252.59 L150.09,252.43 L150.72,252.37 L151.36,252.41 L152.06,253.13 L152.65,252.53 L153.30,252.61 L153.89,252.09 L154.56,252.40 L155.14,251.93 L155.81,252.21 L156.45,252.29 L157.06,252.09 L157.65,251.71 L158.29,251.86 L158.88,251.52 L159.52,251.71 L160.16,251.87 L160.75,251.41 L161.40,251.72 L162.01,251.45 L162.62,251.20 L163.25,251.21 L163.86,251.06 L164.49,251.08 L165.15,251.42 L165.77,251.36 L166.37,251.01 L167.02,251.33 L167.65,251.31 L168.25,250.96 L168.87,250.94 L169.49,250.80 L170.10,250.66 L170.77,251.12 L171.38,250.48 L172.04,250.58 L172.71,250.48 L173.39,250.69 L174.06,250.60 L174.74,250.78 L175.37,250.26 L176.02,250.26 L176.66,250.17 L177.29,250.29 L177.91,250.56 L178.47,250.30 L179.02,250.06 L179.56,250.53 L180.03,250.23 L180.83,250.29 L181.51,250.74 L182.13,250.47 L182.71,250.17 L183.26,250.09 L183.80,250.21 L184.34,250.29 L184.93,250.23 L185.53,250.29 L185.68,246.92 L185.08,247.34 L184.53,247.25 L184.04,246.58 L183.45,247.13 L182.87,247.18 L182.25,246.94 L181.57,246.73 L180.81,247.20 L179.97,247.18 L179.44,247.09 L178.88,246.76 L178.33,247.24 L177.73,247.19 L177.12,247.36 L176.48,247.18 L175.84,247.38 L175.19,247.44 L174.52,247.55 L173.81,246.96 L173.16,247.37 L172.51,247.65 L171.82,247.42 L171.17,247.61 L170.52,247.57 L169.90,247.76 L169.27,247.81 L168.65,247.89 L168.01,247.80 L167.37,247.74 L166.76,248.01 L166.10,247.57 L165.44,247.18 L164.89,248.23 L164.24,248.05 L163.57,247.55 L162.97,247.90 L162.36,248.13 L161.71,247.88 L161.07,247.78 L160.50,248.47 L159.87,248.53 L159.20,248.14 L158.60,248.48 L157.95,248.39 L157.32,248.48 L156.70,248.56 L156.09,248.78 L155.48,248.96 L154.86,249.11 L154.24,249.12 L153.60,249.02 L152.98,249.09 L152.38,249.37 L151.76,249.37 L151.11,248.82 L150.54,249.49 L149.90,249.22 L149.30,249.49 L148.67,249.46 L148.05,249.59 L147.42,249.33 L146.80,249.37 L146.17,249.23 L145.57,249.57 L144.95,249.60 L144.34,249.82 L143.72,249.31 L143.12,249.53 L142.51,249.07 L141.90,249.44 L141.29,249.81 L140.70,249.32 L140.08,249.65 L139.49,249.31 L138.84,249.61 L138.22,249.44 L137.58,249.45 L136.94,249.35 L136.32,249.08 L135.67,249.01 L135.02,248.96 L134.35,249.09 L133.76,248.79 L133.13,248.73 L132.53,248.59 L131.90,248.75 L131.37,248.37 L130.81,248.29 L130.26,248.31 L129.62,247.70 L128.90,247.89 L128.21,248.06 L127.65,247.79 L127.08,247.65 L126.52,247.52 L125.97,247.38 L125.49,246.93 L124.82,247.16 L124.21,247.05 L123.64,246.69 L123.17,246.31 L122.66,246.08 L122.06,246.13 L121.46,246.11 L121.00,245.68 L120.43,245.54 L119.74,245.73 L119.20,245.44 L118.68,245.09 L118.26,244.44 L117.58,244.47 L116.89,244.53 L116.25,244.41 L115.73,244.05 L115.11,243.89 L114.45,243.78 L113.86,243.43 L113.17,243.31 L112.70,242.58 L111.93,242.69 L111.23,242.65 L110.63,242.35 L110.25,241.50 L109.43,241.95 L108.84,241.85 L108.30,241.73 L107.83,241.52 L106.98,241.25 L106.33,240.83 L105.71,240.60 L105.09,240.55 L104.65,240.14 L104.07,240.02 L103.52,239.73 L103.01,239.29 L102.42,239.07 L101.86,238.79 L101.25,238.63 L100.71,238.32 L100.80,236.58 L99.66,237.55 L98.88,237.69 L98.23,237.45 L97.56,237.23 L97.50,235.75 L96.50,236.22 L95.83,236.10 L95.23,235.98 L94.35,235.74 L93.55,235.46 L92.73,235.18 L91.74,235.06 L90.68,235.50 L89.71,236.01 L89.03,236.78 L88.45,237.28 L88.06,237.93 L87.55,238.50 L87.47,239.26 L86.01,239.23Z"/>
<path d="M254.17,251.15 L254.21,250.59 L254.54,250.14 L254.69,249.60 L254.61,248.93 L254.63,248.11 L254.94,247.65 L255.00,247.11 L254.86,246.52 L254.98,245.92 L254.92,245.27 L255.06,244.64 L255.06,243.99 L255.45,243.38 L255.67,242.78 L255.64,242.16 L255.74,241.57 L255.62,240.95 L255.80,240.37 L256.03,239.79 L255.81,239.14 L255.89,238.54 L255.98,237.94 L256.32,237.38 L256.40,236.77 L256.39,236.15 L254.49,235.83 L254.51,236.45 L254.30,237.03 L254.37,237.66 L253.99,238.21 L254.00,238.83 L254.07,239.46 L253.97,240.07 L253.72,240.65 L253.77,241.28 L253.66,241.88 L253.62,242.51 L253.29,243.12 L253.29,243.78 L253.39,244.46 L252.94,245.06 L253.15,245.72 L253.01,246.31 L252.88,246.87 L252.98,247.41 L252.96,247.88 L252.67,248.64 L252.53,249.24 L252.43,249.75 L252.55,250.30 L252.49,250.86Z"/>
<path d="M254.51,236.25 L254.77,236.88 L254.97,237.51 L255.19,238.14 L255.11,238.85 L255.44,239.49 L255.43,240.26 L255.74,240.75 L255.83,241.25 L256.04,241.72 L256.23,242.23 L256.37,242.81 L256.37,243.51 L256.72,244.26 L256.93,245.19 L256.98,245.65 L257.00,246.15 L256.81,246.74 L257.34,247.19 L257.30,247.80 L257.37,248.40 L257.80,248.95 L257.86,249.59 L257.86,250.26 L258.24,250.86 L258.34,251.52 L258.54,252.16 L258.59,252.83 L258.84,253.45 L259.04,254.07 L259.07,254.72 L259.28,255.31 L259.44,255.90 L259.66,256.44 L259.80,257.10 L260.01,257.73 L260.19,258.37 L260.13,259.07 L260.40,259.67 L260.62,260.27 L260.87,260.86 L261.08,261.45 L261.35,262.01 L261.42,262.63 L261.66,263.18 L261.96,263.70 L261.93,264.31 L261.99,264.88 L262.32,265.35 L262.65,265.80 L262.56,266.62 L262.70,267.32 L263.09,267.89 L263.48,268.42 L263.62,269.02 L263.84,269.58 L263.87,270.20 L264.21,270.70 L264.62,271.18 L264.86,271.75 L264.97,272.39 L264.67,273.14 L265.20,273.54 L265.34,274.07 L265.71,274.49 L265.78,275.03 L266.10,275.49 L266.36,276.00 L266.32,276.66 L266.49,277.29 L266.53,278.03 L267.29,278.60 L267.11,279.58 L267.58,279.93 L267.74,280.40 L268.04,280.85 L268.11,281.39 L268.27,281.93 L268.34,282.51 L268.07,283.21 L268.19,283.81 L268.45,284.37 L268.66,284.97 L268.75,285.61 L269.08,286.18 L267.47,287.34 L269.61,287.39 L269.61,288.07 L270.11,288.62 L269.68,289.43 L270.26,289.95 L270.63,290.52 L270.78,291.15 L270.61,291.86 L271.11,292.38 L270.74,293.13 L271.06,293.67 L271.57,294.16 L271.49,294.81 L270.53,295.68 L271.04,296.19 L271.25,296.79 L271.74,297.32 L272.30,297.84 L272.36,298.49 L272.03,299.22 L272.48,299.78 L272.50,300.43 L272.46,301.09 L272.88,301.65 L273.06,302.25 L272.57,303.01 L272.03,303.78 L272.35,304.34 L272.55,304.91 L273.35,305.33 L271.40,306.47 L272.27,306.85 L272.63,307.35 L274.26,307.43 L274.05,308.08 L274.09,308.93 L274.66,309.55 L275.34,310.06 L274.12,311.39 L274.06,312.20 L275.52,312.21 L276.21,312.55 L276.48,313.08 L276.02,314.02 L276.46,314.42 L277.02,314.74 L276.99,315.39 L277.69,315.63 L277.39,316.43 L278.14,316.69 L276.89,317.97 L277.54,318.30 L278.33,318.56 L277.71,319.56 L278.26,319.97 L277.40,321.11 L278.77,321.11 L280.03,321.17 L278.79,322.54 L279.19,323.07 L278.70,324.08 L281.25,323.41 L282.02,323.70 L281.37,324.82 L281.81,325.31 L282.79,325.45 L283.27,325.98 L282.45,327.42 L283.60,327.46 L284.52,327.63 L283.50,329.29 L284.00,329.77 L285.36,329.53 L285.58,330.19 L285.07,331.46 L286.04,331.48 L286.28,332.10 L287.00,332.30 L287.08,333.02 L287.18,333.72 L288.11,333.74 L288.74,334.03 L288.78,334.78 L289.78,334.76 L289.76,335.58 L290.65,335.65 L290.96,336.19 L289.79,337.99 L290.67,338.08 L291.63,338.09 L292.61,338.07 L291.25,340.14 L293.39,339.07 L293.14,340.17 L294.38,339.88 L294.37,340.77 L294.43,341.61 L294.93,342.03 L295.52,342.35 L295.35,343.44 L296.16,343.53 L297.02,343.56 L297.83,343.63 L297.41,345.00 L297.46,345.88 L297.30,347.00 L298.08,347.06 L298.45,347.59 L299.03,348.01 L300.60,347.25 L300.39,348.60 L301.59,348.23 L302.45,348.24 L302.82,348.85 L302.80,349.96 L304.24,349.14 L303.50,351.21 L305.23,349.89 L305.59,350.42 L306.13,350.71 L306.46,351.59 L307.56,351.30 L307.52,352.73 L308.13,353.12 L309.12,352.82 L309.13,354.17 L309.76,354.39 L310.56,354.29 L310.27,356.26 L310.24,358.10 L312.79,354.54 L311.91,358.24 L312.22,359.27 L313.15,358.73 L314.19,357.78 L314.27,359.00 L315.13,358.45 L318.71,350.21 L318.32,349.54 L317.91,348.87 L317.12,349.21 L316.48,349.23 L315.91,349.12 L315.84,347.93 L315.35,347.71 L315.35,346.47 L314.11,347.66 L314.61,345.57 L313.61,346.22 L313.29,345.65 L312.53,345.82 L312.58,344.63 L311.92,344.56 L310.53,345.54 L309.64,345.63 L309.29,345.21 L308.87,344.85 L308.61,344.24 L308.20,343.83 L308.17,342.90 L307.06,343.38 L306.51,343.09 L306.51,342.12 L306.34,341.35 L305.70,341.16 L305.12,340.89 L304.36,340.81 L303.70,340.74 L304.04,339.52 L303.17,339.63 L303.88,338.02 L303.26,337.85 L303.14,337.14 L302.06,337.43 L301.62,337.04 L300.80,337.03 L299.70,337.29 L299.77,336.38 L298.96,336.34 L299.64,334.88 L299.00,334.69 L299.20,333.75 L298.01,334.07 L297.24,333.99 L297.90,332.66 L296.98,332.70 L296.46,332.37 L296.07,331.94 L295.59,331.57 L296.13,330.36 L295.14,330.39 L294.46,330.17 L295.88,328.23 L294.30,328.71 L292.81,329.11 L292.48,328.56 L292.87,327.40 L291.51,327.71 L291.61,326.81 L290.70,326.76 L293.01,324.05 L290.70,325.17 L289.82,325.11 L289.22,324.81 L288.76,324.41 L288.77,323.65 L288.29,323.27 L289.19,321.94 L287.47,322.39 L287.38,321.83 L286.49,321.74 L286.38,321.15 L286.11,320.65 L286.73,319.65 L285.29,319.77 L285.62,318.93 L285.79,318.17 L284.88,317.97 L284.50,317.48 L284.58,316.76 L284.44,316.14 L284.19,315.59 L284.22,314.89 L283.12,314.76 L282.55,314.37 L281.99,313.94 L281.99,313.23 L281.98,312.54 L282.38,311.63 L281.27,311.63 L281.48,310.88 L281.15,310.46 L280.32,310.32 L280.40,309.68 L280.43,309.07 L280.21,308.57 L279.31,308.35 L278.85,307.87 L278.45,307.32 L278.17,306.66 L278.44,306.09 L278.66,305.52 L278.41,305.08 L277.67,304.75 L277.95,304.11 L277.81,303.58 L278.50,302.82 L276.86,302.62 L278.09,301.71 L277.37,301.26 L276.98,300.71 L277.17,300.03 L276.59,299.51 L276.40,298.90 L276.04,298.32 L275.83,297.70 L275.50,297.11 L276.20,296.29 L275.94,295.68 L275.20,295.19 L275.24,294.52 L275.37,293.82 L274.88,293.29 L274.17,292.83 L274.42,292.11 L274.00,291.58 L273.69,291.00 L273.68,290.33 L273.59,289.67 L273.38,289.04 L272.95,288.48 L273.04,287.76 L272.51,287.22 L272.54,286.52 L272.40,285.87 L272.33,285.21 L271.79,284.69 L271.56,284.09 L271.95,283.31 L271.24,282.87 L270.84,282.36 L270.62,281.80 L270.71,281.17 L270.61,280.61 L270.07,280.21 L270.12,279.64 L270.22,279.08 L269.63,278.77 L269.39,277.91 L269.57,276.99 L269.46,276.25 L269.22,275.61 L269.04,275.00 L268.49,274.58 L268.10,274.13 L267.78,273.68 L267.99,273.02 L267.54,272.63 L267.57,272.03 L266.93,271.65 L267.12,270.88 L266.59,270.41 L266.41,269.83 L266.12,269.30 L265.80,268.80 L265.52,268.27 L265.73,267.54 L265.55,266.95 L265.12,266.42 L264.86,265.79 L264.43,265.17 L264.31,264.66 L264.04,264.17 L263.76,263.68 L263.59,263.14 L263.59,262.53 L263.48,261.94 L263.10,261.43 L263.03,260.81 L262.88,260.21 L262.46,259.68 L262.29,259.07 L262.11,258.46 L261.88,257.85 L261.88,257.17 L261.48,256.61 L261.32,255.97 L261.29,255.39 L261.04,254.84 L260.81,254.27 L260.67,253.65 L260.50,253.03 L260.39,252.38 L260.59,251.65 L260.36,251.02 L259.90,250.45 L259.73,249.81 L259.53,249.19 L259.71,248.49 L259.23,247.96 L259.13,247.36 L258.98,246.79 L258.84,246.25 L258.74,245.73 L258.60,245.25 L258.75,244.74 L258.29,243.87 L258.08,243.10 L257.96,242.43 L257.80,241.86 L257.69,241.34 L257.74,240.80 L257.42,240.34 L257.29,239.81 L257.34,239.02 L256.93,238.40 L256.94,237.70 L256.68,237.08 L256.45,236.46 L256.24,235.81Z"/>
<path d="M256.81,244.29 L257.08,244.87 L257.35,245.46 L257.53,246.10 L257.87,246.69 L257.86,247.42 L258.08,248.07 L258.32,248.70 L258.70,249.29 L258.99,249.89 L259.31,250.48 L259.69,251.04 L259.87,251.67 L259.96,252.32 L260.43,252.79 L260.61,253.36 L260.90,253.86 L260.89,254.47 L261.12,254.95 L261.43,255.35 L261.78,256.14 L262.12,256.83 L262.48,257.42 L262.60,258.07 L263.00,258.52 L263.00,259.15 L263.22,259.64 L263.78,259.93 L263.83,260.52 L264.03,261.07 L264.59,261.56 L264.73,262.28 L264.93,262.92 L265.12,263.54 L265.77,263.84 L265.76,264.61 L266.61,264.87 L266.92,265.56 L267.03,266.07 L267.25,266.55 L267.49,267.05 L268.08,267.40 L268.08,268.07 L268.66,268.47 L268.85,269.07 L268.29,270.06 L269.43,270.21 L269.68,270.80 L269.91,271.41 L269.83,272.18 L269.63,273.01 L270.29,273.37 L270.15,274.16 L271.44,274.16 L271.74,274.71 L271.62,275.51 L272.23,275.89 L272.47,276.49 L272.79,277.04 L272.93,277.71 L273.32,278.23 L273.53,278.86 L273.89,279.41 L273.46,280.46 L274.90,280.27 L274.48,281.26 L274.79,281.80 L275.81,281.86 L276.02,282.47 L275.36,283.67 L276.24,283.82 L276.37,284.51 L277.54,284.44 L277.85,284.99 L278.15,285.55 L277.14,287.10 L278.53,286.84 L279.31,287.03 L279.55,287.63 L279.96,288.10 L280.10,288.78 L280.55,289.23 L280.87,289.78 L281.55,290.05 L281.78,290.69 L281.36,291.92 L282.21,292.04 L283.05,292.16 L283.20,292.92 L283.50,293.55 L284.48,293.50 L283.87,295.14 L285.08,294.84 L285.47,295.44 L285.95,295.93 L286.82,295.89 L286.99,296.78 L287.66,296.96 L288.54,296.83 L288.89,297.44 L288.94,298.47 L289.46,298.81 L290.17,298.85 L290.76,299.06 L291.20,299.46 L291.44,300.09 L292.31,299.94 L292.29,300.95 L291.97,302.32 L292.43,302.76 L293.65,302.31 L292.14,305.16 L294.07,303.88 L294.89,303.93 L295.90,303.74 L296.78,303.67 L297.27,304.08 L296.67,305.95 L297.44,306.00 L298.15,306.13 L299.38,305.79 L300.03,306.31 L300.88,306.26 L301.29,307.08 L302.00,306.98 L302.45,307.43 L303.07,307.28 L303.53,307.46 L303.80,308.12 L304.58,307.77 L304.93,308.44 L304.82,310.11 L305.68,309.72 L306.43,309.56 L307.08,309.66 L307.67,309.90 L308.34,309.94 L309.05,309.89 L309.45,310.71 L310.30,310.47 L310.51,311.78 L311.28,311.76 L311.90,312.10 L312.62,312.23 L313.34,312.35 L313.82,313.19 L314.42,313.74 L315.34,313.22 L315.94,313.64 L316.80,313.05 L317.43,313.27 L318.04,313.49 L318.79,313.11 L319.38,313.32 L320.01,313.45 L320.30,314.80 L320.89,315.12 L321.91,313.89 L322.44,314.43 L323.17,314.25 L323.62,315.07 L324.36,314.86 L324.78,315.69 L324.73,318.16 L325.57,317.35 L325.63,319.48 L326.95,316.99 L327.60,317.18 L328.62,316.13 L329.29,316.78 L330.00,316.13 L330.51,316.44 L331.14,316.39 L331.48,317.71 L332.18,317.48 L332.75,317.94 L333.10,319.42 L334.24,317.36 L334.93,317.33 L335.41,318.25 L335.02,323.02 L336.75,318.26 L337.51,317.79 L338.60,312.93 L337.85,313.36 L337.21,313.21 L337.33,309.61 L336.26,311.31 L335.37,312.26 L334.73,312.06 L334.03,312.20 L333.39,312.08 L332.72,312.20 L332.27,311.42 L331.79,310.90 L331.18,311.11 L330.59,311.34 L329.83,311.17 L329.15,311.03 L328.45,311.18 L328.06,310.28 L327.30,310.90 L326.84,310.38 L326.63,308.89 L325.77,309.65 L325.04,309.91 L324.57,309.20 L323.88,309.29 L323.09,309.72 L322.48,309.48 L321.92,309.08 L321.71,307.43 L320.69,308.59 L319.96,308.77 L319.48,307.98 L319.19,306.52 L318.20,307.80 L317.71,307.26 L317.14,307.03 L316.90,305.83 L316.27,305.95 L315.46,306.48 L314.83,306.40 L314.33,305.95 L313.37,306.62 L312.85,306.17 L312.31,305.73 L312.19,304.32 L311.23,304.86 L310.43,305.22 L310.51,303.64 L309.76,303.87 L309.01,304.07 L308.39,303.95 L308.02,303.28 L307.76,302.37 L306.56,303.47 L306.22,302.63 L305.45,302.71 L305.21,301.49 L304.64,301.31 L304.45,300.29 L303.31,301.95 L303.23,300.92 L303.17,300.03 L302.51,300.29 L302.10,299.87 L301.02,300.81 L301.42,299.46 L301.07,299.10 L300.44,299.04 L299.10,299.78 L300.18,297.50 L299.23,297.67 L299.42,296.45 L297.37,297.87 L296.59,297.76 L297.35,295.78 L296.01,296.34 L295.32,296.13 L294.68,295.87 L294.33,295.24 L294.36,294.05 L293.25,294.48 L292.54,294.37 L292.86,292.80 L291.79,293.25 L290.95,293.38 L290.77,292.58 L290.16,292.42 L289.29,292.61 L288.75,292.35 L288.56,291.67 L288.56,290.82 L287.76,290.90 L287.27,290.59 L286.70,290.36 L286.70,289.55 L285.88,289.53 L286.14,288.50 L285.77,288.05 L284.54,288.34 L285.12,287.06 L285.06,286.35 L283.43,286.90 L282.96,286.50 L282.59,286.01 L282.57,285.25 L282.04,284.90 L281.53,284.53 L281.32,283.95 L281.13,283.34 L281.02,282.68 L280.29,282.47 L280.34,281.70 L280.44,280.90 L280.12,280.41 L280.10,279.71 L278.61,279.99 L278.14,279.59 L277.39,279.37 L276.95,278.94 L276.67,278.42 L276.22,277.95 L276.11,277.28 L275.98,276.63 L275.37,276.26 L275.15,275.67 L275.39,274.81 L274.74,274.47 L275.20,273.50 L273.93,273.49 L273.52,273.01 L273.02,272.58 L273.31,271.71 L273.07,271.15 L272.28,270.88 L272.02,270.32 L271.68,269.78 L271.59,269.13 L270.91,268.76 L271.07,267.97 L270.53,267.54 L271.16,266.53 L270.12,266.37 L270.11,265.70 L269.58,265.32 L269.35,264.81 L269.19,264.26 L268.72,263.59 L267.98,263.17 L267.80,262.46 L267.26,262.06 L266.92,261.55 L266.59,261.05 L266.79,260.21 L265.90,259.98 L265.65,259.49 L265.32,259.08 L264.95,258.69 L264.72,258.23 L264.49,257.75 L264.17,257.28 L263.85,256.76 L263.63,256.11 L263.28,255.44 L262.98,254.65 L262.83,254.18 L262.52,253.75 L262.21,253.29 L262.09,252.72 L261.97,252.13 L261.51,251.65 L261.37,251.03 L261.18,250.41 L260.85,249.83 L260.59,249.22 L260.27,248.62 L260.32,247.87 L260.03,247.25 L259.44,246.76 L259.20,246.13 L259.02,245.47 L258.68,244.90 L258.59,244.23 L258.24,243.68Z"/>
<path d="M409.24,249.41 L409.40,248.76 L409.48,248.12 L409.59,247.47 L409.56,246.81 L409.62,246.15 L409.72,245.48 L410.10,244.82 L410.21,244.12 L410.00,243.52 L409.91,242.94 L410.01,242.38 L410.19,241.81 L410.26,241.24 L410.09,240.63 L410.12,240.03 L410.39,239.42 L410.20,238.75 L410.34,238.08 L410.47,237.54 L410.41,236.96 L410.43,236.38 L410.71,235.79 L410.55,235.16 L410.57,234.53 L410.74,233.90 L410.70,233.26 L410.81,232.62 L410.87,231.98 L411.00,231.35 L410.96,230.71 L410.97,230.09 L409.10,229.92 L408.83,230.52 L408.90,231.16 L408.69,231.78 L408.78,232.44 L408.66,233.07 L408.73,233.72 L408.46,234.34 L408.57,234.98 L408.26,235.58 L408.39,236.20 L408.26,236.79 L408.39,237.37 L408.26,237.92 L408.14,238.60 L408.22,239.27 L408.17,239.91 L408.13,240.52 L408.04,241.11 L408.16,241.69 L408.11,242.26 L407.76,242.79 L407.98,243.36 L407.79,243.90 L407.65,244.58 L407.58,245.25 L407.64,245.92 L407.64,246.58 L407.46,247.21 L407.28,247.85 L407.43,248.53 L407.24,249.18Z"/>
<path d="M409.08,230.23 L409.00,230.89 L409.37,231.41 L409.41,232.02 L409.45,232.63 L409.39,233.25 L409.47,233.85 L410.04,234.33 L410.19,234.92 L410.36,235.51 L410.21,236.18 L410.33,236.80 L410.78,237.34 L410.97,237.97 L411.18,238.59 L411.17,239.31 L411.58,239.91 L411.79,240.44 L411.83,241.04 L412.08,241.59 L412.20,242.20 L412.62,242.70 L412.78,243.31 L413.09,243.87 L413.21,244.51 L413.53,245.08 L413.61,245.74 L413.97,246.28 L414.14,246.91 L414.51,247.44 L414.66,248.06 L414.98,248.60 L415.23,249.15 L415.35,249.75 L415.55,250.30 L415.72,250.85 L415.96,251.35 L416.27,252.00 L416.67,252.59 L416.68,253.35 L416.95,253.98 L417.30,254.56 L417.70,255.10 L418.16,255.59 L418.35,256.20 L418.64,256.75 L418.84,257.33 L419.05,257.89 L419.44,258.35 L419.59,258.92 L419.89,259.41 L420.12,259.91 L420.51,260.54 L420.73,261.23 L421.11,261.82 L421.28,262.49 L421.66,263.03 L421.79,263.68 L422.21,264.18 L422.35,264.79 L422.63,265.33 L422.95,265.84 L423.11,266.42 L422.99,267.26 L423.39,267.83 L423.92,268.31 L424.39,268.79 L424.69,269.35 L424.41,270.17 L424.78,270.66 L425.41,271.03 L425.70,271.57 L425.92,272.22 L426.10,272.89 L426.29,273.53 L426.57,274.13 L427.09,274.62 L427.03,275.37 L427.18,276.03 L427.66,276.56 L428.12,277.02 L428.19,277.66 L428.52,278.19 L428.71,278.77 L429.00,279.32 L429.34,279.85 L428.96,280.68 L429.23,281.24 L430.08,281.55 L429.95,282.27 L430.15,282.86 L430.72,283.30 L430.09,284.23 L431.15,284.46 L431.06,285.15 L431.04,285.81 L431.32,286.32 L432.01,286.67 L432.26,287.26 L431.59,288.14 L432.22,288.56 L432.01,289.26 L432.53,289.72 L432.48,290.38 L432.17,291.13 L432.04,291.83 L432.97,292.19 L433.66,292.65 L433.83,293.28 L433.53,294.08 L433.42,294.82 L432.86,295.73 L433.65,296.21 L433.98,296.84 L434.93,297.19 L435.08,297.83 L435.13,298.51 L435.62,298.98 L435.33,299.80 L434.25,301.00 L435.74,300.99 L435.47,301.81 L436.64,301.95 L437.17,302.40 L436.76,303.33 L437.29,303.79 L436.00,305.20 L437.25,305.29 L438.45,305.40 L438.76,305.98 L438.03,307.17 L438.89,307.43 L438.95,308.13 L438.78,308.96 L440.13,308.82 L440.47,309.32 L440.61,309.94 L439.86,311.09 L440.94,311.11 L440.18,312.13 L440.86,312.45 L441.59,312.77 L440.61,313.97 L442.20,313.92 L442.56,314.49 L442.49,315.29 L443.24,315.68 L443.19,316.47 L443.21,317.11 L443.95,317.35 L444.46,317.73 L444.63,318.28 L444.17,319.19 L443.71,320.14 L444.67,320.38 L445.10,320.94 L444.91,321.92 L445.87,322.25 L446.40,322.87 L445.83,323.90 L446.64,324.03 L447.11,324.42 L448.06,324.50 L448.10,325.22 L448.68,325.60 L448.54,326.49 L448.80,327.12 L448.37,328.26 L450.26,327.75 L450.18,328.66 L450.16,329.55 L451.36,329.52 L451.61,330.21 L452.09,330.72 L452.32,331.43 L453.11,331.66 L453.77,331.96 L454.10,332.57 L454.32,333.29 L454.07,334.52 L452.32,337.35 L454.09,336.51 L456.45,334.95 L456.57,335.82 L456.51,336.90 L457.35,336.94 L457.32,338.01 L458.49,337.62 L459.00,338.01 L458.90,339.15 L460.13,338.62 L460.72,338.85 L461.37,339.01 L460.96,340.68 L461.78,340.75 L461.99,341.63 L462.32,342.35 L463.42,341.96 L464.61,341.38 L464.97,342.01 L465.02,343.14 L465.28,343.94 L466.54,343.13 L466.77,343.98 L467.91,343.29 L467.53,345.21 L468.73,344.36 L469.46,344.34 L469.56,345.63 L469.91,346.52 L471.18,345.51 L471.58,346.27 L472.58,345.67 L472.95,346.46 L473.66,346.44 L474.31,346.52 L474.39,347.94 L475.11,347.78 L475.68,347.93 L476.17,348.24 L476.81,348.13 L477.44,348.05 L477.93,348.54 L478.41,349.04 L478.94,349.40 L479.25,350.20 L479.64,350.82 L480.86,349.56 L481.46,349.69 L481.92,350.12 L482.09,351.18 L482.32,352.14 L483.20,351.64 L483.84,351.70 L486.93,344.81 L487.06,343.02 L485.74,344.50 L485.29,344.05 L485.18,342.83 L484.55,342.79 L483.46,343.76 L483.15,342.99 L482.44,343.08 L481.86,342.86 L481.36,342.46 L480.71,342.33 L480.85,340.40 L480.20,340.36 L479.74,339.84 L479.05,339.89 L478.54,339.55 L477.32,340.90 L477.28,339.44 L476.35,340.12 L475.79,339.92 L475.77,338.50 L474.77,339.33 L474.21,339.17 L473.66,338.98 L473.39,338.29 L472.65,338.47 L472.50,337.61 L472.34,336.76 L472.61,335.20 L472.26,334.74 L471.76,334.53 L471.20,334.43 L470.41,334.66 L468.71,336.26 L468.92,334.91 L468.09,335.12 L467.87,334.43 L467.03,334.61 L466.84,333.88 L466.34,333.56 L465.51,333.64 L465.34,332.95 L464.53,333.06 L465.66,330.74 L464.76,330.95 L463.46,331.62 L462.88,331.39 L462.25,331.22 L461.66,331.00 L461.05,330.79 L461.42,329.49 L460.48,329.64 L460.31,328.98 L460.21,328.25 L459.00,328.64 L459.15,327.70 L458.34,327.69 L458.64,326.67 L457.98,326.53 L457.28,326.38 L456.62,326.16 L456.38,325.59 L456.69,324.58 L459.19,321.96 L455.52,323.92 L456.88,322.19 L456.57,321.67 L453.95,322.75 L454.25,321.80 L453.88,321.33 L453.21,321.07 L452.71,320.71 L453.68,319.40 L452.64,319.43 L453.24,318.45 L451.62,318.65 L451.68,317.86 L452.29,316.82 L451.35,316.71 L450.06,316.77 L450.00,316.17 L450.38,315.36 L451.17,314.34 L449.43,314.57 L449.49,313.87 L449.20,313.33 L449.01,312.70 L448.36,312.31 L447.68,311.93 L447.73,311.18 L446.96,310.83 L446.84,310.16 L446.30,309.70 L446.70,308.77 L445.52,308.67 L446.61,307.36 L444.81,307.50 L445.36,306.35 L444.99,305.79 L444.48,305.36 L443.74,305.12 L444.40,304.04 L444.21,303.53 L442.78,303.72 L441.98,303.48 L442.39,302.57 L441.94,302.11 L441.05,301.88 L441.91,300.76 L440.98,300.53 L440.83,299.92 L439.74,299.76 L440.27,298.82 L439.54,298.51 L440.14,297.57 L439.73,297.12 L439.89,296.42 L438.59,296.35 L438.38,295.80 L438.43,295.16 L438.36,294.56 L437.50,294.21 L437.23,293.63 L437.46,292.88 L437.01,292.32 L436.25,291.86 L436.45,291.09 L435.73,290.63 L436.04,289.86 L435.28,289.47 L435.48,288.75 L434.95,288.28 L435.48,287.45 L434.85,287.00 L434.54,286.43 L434.05,285.90 L433.98,285.29 L434.39,284.46 L433.25,284.26 L433.38,283.53 L433.30,282.89 L432.84,282.40 L433.77,281.33 L432.12,281.35 L431.80,280.82 L431.73,280.18 L431.42,279.63 L431.14,279.08 L431.65,278.18 L430.54,277.98 L430.33,277.40 L430.11,276.82 L429.92,276.23 L429.51,275.74 L429.52,275.00 L428.96,274.51 L428.69,273.91 L428.99,273.04 L428.46,272.55 L428.86,271.63 L427.89,271.32 L427.33,270.81 L427.12,270.22 L426.84,269.68 L426.77,269.02 L426.25,268.59 L426.12,267.95 L426.04,267.28 L425.38,266.87 L425.22,266.20 L424.87,265.59 L424.56,265.09 L424.58,264.42 L424.41,263.84 L424.80,262.99 L423.53,262.88 L423.32,262.28 L423.18,261.62 L422.96,260.98 L422.51,260.42 L422.23,259.75 L421.80,259.13 L421.56,258.62 L421.51,258.01 L421.12,257.55 L421.74,256.60 L420.61,256.48 L420.30,255.95 L420.13,255.35 L419.77,254.83 L419.53,254.24 L419.30,253.63 L418.96,253.06 L418.70,252.44 L418.43,251.82 L418.27,251.12 L417.87,250.53 L417.78,249.97 L417.57,249.44 L417.17,248.98 L416.94,248.43 L416.71,247.87 L416.62,247.24 L416.24,246.72 L416.07,246.11 L416.14,245.39 L415.57,244.94 L415.29,244.37 L415.08,243.77 L414.88,243.17 L414.75,242.55 L414.44,242.01 L414.84,241.21 L413.96,240.90 L413.85,240.33 L413.80,239.74 L413.71,239.20 L413.60,238.53 L413.35,237.94 L413.04,237.37 L412.60,236.84 L412.51,236.23 L412.32,235.65 L412.23,235.04 L412.38,234.39 L411.88,233.90 L412.79,233.07 L411.95,232.66 L411.76,232.08 L411.76,231.46 L411.29,230.95 L411.12,230.35 L410.93,229.76Z"/>
<path d="M416.18,251.31 L416.13,252.00 L416.57,252.46 L416.89,252.99 L417.15,253.55 L417.38,254.12 L417.58,254.72 L417.90,255.25 L418.31,255.74 L418.57,256.30 L418.82,256.86 L419.07,257.42 L419.31,257.97 L419.64,258.46 L419.81,259.04 L420.18,259.49 L420.41,260.00 L420.75,260.65 L420.88,261.41 L421.46,261.88 L421.81,262.47 L422.35,262.92 L422.55,263.57 L422.83,264.16 L423.44,264.51 L423.70,265.08 L423.85,265.70 L424.34,266.08 L424.69,266.54 L424.86,267.25 L424.91,268.00 L425.32,268.48 L426.05,268.71 L426.45,269.16 L426.62,269.76 L427.18,270.08 L427.41,270.65 L427.62,271.24 L428.09,271.67 L428.56,272.12 L428.83,272.73 L429.16,273.30 L429.59,273.79 L430.08,274.23 L430.03,275.09 L430.67,275.40 L430.84,276.07 L431.46,276.38 L431.96,276.77 L432.37,277.23 L432.70,277.74 L433.07,278.22 L433.35,278.77 L433.49,279.40 L433.82,279.91 L434.22,280.37 L434.13,281.16 L434.32,281.77 L435.09,282.00 L435.36,282.56 L435.80,282.99 L436.17,283.48 L436.33,284.09 L436.30,284.85 L437.11,285.05 L436.72,286.05 L436.82,286.75 L437.12,287.31 L437.76,287.66 L436.80,289.15 L438.92,288.43 L439.54,288.80 L439.77,289.44 L440.20,289.94 L440.40,290.60 L439.95,291.74 L439.78,292.65 L440.99,292.54 L440.19,293.84 L440.98,293.95 L442.30,293.72 L442.26,294.41 L442.11,295.19 L440.12,297.20 L442.40,296.50 L443.78,296.38 L442.48,298.25 L444.55,297.61 L443.96,299.17 L445.22,298.91 L445.66,299.38 L446.26,299.70 L446.02,300.89 L445.28,302.64 L447.50,301.36 L448.24,301.58 L448.13,302.73 L447.65,304.31 L449.73,303.02 L450.02,303.72 L449.97,304.81 L451.20,304.36 L451.16,305.52 L450.75,307.20 L450.61,308.59 L452.74,306.93 L453.74,306.71 L454.10,307.36 L454.89,307.38 L455.28,307.95 L455.85,308.23 L455.71,309.56 L455.73,310.63 L456.73,310.20 L457.85,309.77 L458.48,310.05 L458.60,311.13 L459.62,310.71 L460.01,311.33 L460.49,311.78 L460.84,312.46 L460.88,313.74 L461.73,313.57 L462.72,313.16 L463.47,313.09 L463.97,313.51 L464.28,314.34 L464.86,314.67 L465.54,314.77 L465.77,315.85 L467.01,314.75 L467.50,315.24 L468.09,315.50 L468.64,315.79 L469.07,316.38 L469.25,317.87 L470.40,316.90 L471.12,316.94 L471.77,317.10 L472.04,318.36 L472.61,318.75 L473.65,317.73 L474.06,318.64 L474.85,318.44 L475.64,318.06 L476.32,318.05 L476.93,318.31 L477.13,320.18 L477.86,320.00 L478.49,320.22 L479.46,319.05 L480.05,319.42 L480.69,319.57 L481.41,319.45 L482.05,319.44 L482.62,319.74 L483.24,319.90 L483.87,319.97 L484.55,319.88 L484.89,321.24 L485.35,322.10 L486.32,320.75 L486.90,321.11 L487.39,321.80 L488.12,321.50 L488.74,321.54 L489.46,321.24 L490.04,321.53 L490.77,321.23 L491.38,321.41 L491.98,321.63 L492.64,321.50 L493.02,322.48 L493.54,322.71 L494.23,322.20 L494.31,323.79 L494.87,323.31 L495.68,322.96 L495.80,324.27 L496.94,322.67 L497.38,322.95 L497.27,324.61 L498.38,323.47 L498.96,323.72 L499.60,323.80 L499.71,325.25 L499.96,326.33 L500.80,325.82 L501.83,324.81 L502.36,325.13 L502.63,326.15 L505.44,318.67 L504.54,319.33 L503.95,319.15 L503.47,318.71 L502.83,318.68 L502.30,318.34 L501.57,318.54 L501.04,318.28 L501.06,316.79 L500.25,317.43 L499.53,317.73 L498.94,317.56 L498.40,317.08 L497.68,316.80 L496.88,316.53 L496.65,315.26 L496.24,314.51 L495.52,314.88 L494.95,314.55 L494.07,315.52 L494.41,311.27 L493.10,314.00 L492.09,315.51 L491.49,315.26 L490.82,315.38 L490.24,315.16 L489.65,315.06 L489.08,314.68 L488.65,313.61 L487.91,313.94 L487.21,314.11 L486.83,312.89 L485.92,314.01 L485.47,313.12 L485.10,311.98 L484.28,312.80 L483.92,311.70 L482.97,313.06 L482.27,313.08 L482.07,311.10 L481.03,312.63 L480.58,311.77 L480.07,311.20 L479.38,311.44 L479.00,310.52 L478.37,310.63 L477.80,310.56 L477.22,310.52 L476.94,309.32 L476.37,309.14 L475.98,308.51 L475.30,308.80 L474.60,309.13 L473.71,309.94 L473.14,309.81 L472.68,309.34 L471.93,309.50 L471.67,308.74 L471.31,308.19 L470.77,308.01 L470.11,308.03 L469.34,308.28 L469.50,306.55 L468.32,307.61 L468.48,305.94 L467.19,307.18 L467.10,306.09 L466.33,306.34 L465.87,305.91 L465.01,306.25 L464.84,305.37 L464.39,305.01 L463.83,304.86 L462.94,305.23 L462.77,304.40 L462.18,304.22 L462.28,302.93 L461.15,303.49 L460.47,303.49 L459.93,303.25 L459.54,302.78 L458.93,302.61 L458.47,302.24 L458.65,300.93 L457.35,301.72 L457.19,300.91 L456.65,300.64 L455.81,300.73 L455.28,300.42 L455.26,299.49 L454.97,298.94 L453.96,299.18 L453.57,298.68 L453.51,297.81 L452.54,297.93 L452.02,297.54 L451.86,296.79 L450.97,296.80 L451.12,295.77 L450.17,295.88 L450.07,295.18 L449.11,295.32 L450.12,293.77 L448.91,294.04 L448.20,293.90 L448.11,293.29 L447.83,292.85 L446.91,292.80 L447.86,291.54 L446.61,291.65 L446.10,291.25 L446.00,290.55 L445.36,290.18 L444.91,289.70 L444.31,289.33 L443.73,288.94 L444.06,287.88 L443.30,287.64 L443.18,286.93 L442.57,286.57 L441.63,286.47 L441.57,285.75 L440.91,285.46 L440.78,284.80 L440.89,283.99 L440.29,283.66 L439.52,283.45 L439.28,282.88 L439.01,282.34 L438.40,282.01 L438.06,281.50 L438.08,280.75 L437.41,280.47 L436.93,280.05 L436.64,279.52 L436.39,278.95 L435.92,278.54 L435.67,277.97 L436.07,276.97 L435.56,276.55 L434.61,276.44 L434.68,275.62 L433.83,275.43 L433.54,274.84 L433.42,274.12 L433.00,273.61 L432.34,273.29 L431.77,272.90 L431.34,272.42 L431.24,271.68 L430.57,271.39 L430.24,270.86 L429.93,270.31 L429.54,269.85 L429.17,269.38 L428.97,268.80 L428.82,268.21 L427.99,268.08 L427.76,267.53 L427.35,267.09 L427.13,266.48 L427.03,265.78 L426.28,265.47 L425.90,265.03 L425.82,264.36 L425.23,264.04 L425.16,263.34 L424.53,263.02 L424.39,262.35 L424.05,261.81 L423.59,261.33 L423.25,260.76 L422.90,260.19 L422.65,259.54 L422.43,258.86 L421.97,258.51 L421.55,258.11 L421.32,257.59 L421.02,257.10 L420.80,256.55 L420.67,255.95 L420.40,255.40 L419.99,254.93 L419.74,254.36 L419.56,253.76 L419.24,253.23 L418.89,252.71 L418.76,252.08 L418.49,251.52 L418.32,250.92 L417.92,250.44Z"/>
</g>
<g fill="none" stroke="#000" stroke-linejoin="round" stroke-linecap="round">
<path d="M56.80,49.49V59.79M57.20,49.24V59.19M57.60,48.28V58.73M58.00,49.28V60.40M58.40,48.89V59.17M58.80,49.25V58.80M59.20,48.90V59.20M59.60,49.19V59.59M60.00,48.81V60.86M60.40,48.77V59.98M60.80,48.65V58.95M61.20,49.14V59.05M61.60,47.36V59.98M62.00,49.06V60.36M62.40,48.56V60.81M62.80,48.81V60.15M63.20,49.66V59.94M63.60,47.26V60.42M64.00,49.33V59.49M64.40,48.27V60.91M64.80,49.19V59.46M65.20,48.38V59.67M65.60,45.71V61.15M66.00,49.26V60.91M66.40,48.88V59.32M66.80,49.08V59.77M67.20,49.51V62.20M67.60,48.94V61.11M68.00,49.01V60.93M68.40,48.51V62.69M68.80,48.51V60.07M69.20,48.57V59.69M69.60,49.50V60.16M70.00,49.04V59.86M70.40,49.48V59.81M70.80,48.87V59.29M71.20,49.43V60.78M71.60,48.99V59.32M72.00,48.88V60.06M72.40,48.42V60.16M72.80,48.10V60.22M73.20,48.51V61.03M73.60,48.80V60.27M74.00,48.53V60.04M74.40,47.49V60.40M74.80,48.62V60.09M75.20,48.94V59.94M75.60,46.29V59.26M76.00,48.00V59.81M76.40,48.06V61.09M76.80,46.56V60.07M77.20,47.86V60.59M77.60,48.25V59.06M78.00,47.29V59.93M78.40,47.65V60.12M78.80,47.11V59.15M79.20,47.33V58.86M79.60,46.14V59.47M80.00,47.19V59.07M80.40,45.45V59.04M80.80,45.60V58.78M81.20,46.18V57.75M81.60,46.55V58.38M82.00,45.47V57.74M82.40,43.58V56.90M82.80,45.81V56.92M83.20,45.33V56.61M83.60,44.80V57.11M84.00,45.41V55.53M84.40,44.54V55.95M84.80,45.05V54.93M85.20,43.28V54.98M85.60,44.74V54.33M86.00,43.97V54.57M86.40,44.13V53.62M86.80,43.87V52.95M87.20,42.49V52.54M87.60,43.57V52.14M88.00,44.04V51.52M88.40,43.76V51.61M88.80,42.96V51.71M89.20,43.62V50.86M89.60,43.34V50.59M90.00,43.22V50.92M90.40,43.07V50.17M90.80,42.61V50.10M91.20,42.94V50.17M91.60,41.78V49.56M92.00,41.18V49.59M92.40,42.48V49.96M92.80,42.78V50.45M93.20,42.10V49.37M93.60,41.61V49.46M94.00,42.04V48.92M94.40,41.92V49.33M94.80,42.27V48.58M95.20,42.15V48.92M95.60,41.82V48.89M96.00,41.94V48.26M96.40,41.36V48.83M96.80,41.82V48.55M97.20,41.61V48.14M97.60,40.98V48.25M98.00,41.33V48.27M98.40,41.36V48.76M98.80,41.29V47.85M99.20,41.25V48.10M99.60,41.37V47.80M100.00,41.21V49.30M100.40,41.08V47.98M100.80,41.27V48.73M101.20,40.74V48.06M101.60,40.98V48.73M102.00,41.42V47.96M102.40,41.24V48.27M102.80,41.53V48.00M103.20,41.57V48.22M103.60,41.37V48.55M104.00,41.71V48.22M104.40,41.81V49.06M104.80,42.17V49.03M105.20,41.80V48.45M105.60,41.78V48.72M106.00,42.45V49.17M106.40,42.43V48.60M106.80,42.72V48.80M107.20,42.36V49.10M107.60,42.84V48.83M108.00,43.37V48.93M108.40,42.96V49.02M108.80,43.61V49.42M109.20,43.69V50.05M109.60,43.26V50.16M110.00,42.93V49.25M110.40,44.16V49.48M110.80,44.63V49.44" stroke-width="1.00"/>
<path d="M223.00,54.12V57.07M223.40,53.89V58.38M223.80,54.56V58.08M224.20,54.67V57.87M224.60,53.77V57.63M225.00,53.80V59.45M225.40,55.13V57.53M225.80,53.58V58.58M226.20,54.33V58.46M226.60,54.32V58.85M227.00,54.75V58.19M227.40,54.20V60.20M227.80,54.56V58.24M228.20,54.48V58.11M228.60,53.47V58.84M229.00,54.04V58.75M229.40,54.62V58.74M229.80,54.23V59.05M230.20,54.44V58.26M230.60,53.56V58.46M231.00,53.87V57.48M231.40,52.95V60.21M231.80,54.08V57.73M232.20,54.50V58.67M232.60,54.59V58.60M233.00,54.33V59.22M233.40,53.65V57.63M233.80,51.03V58.59M234.20,53.97V58.28M234.60,54.58V57.52M235.00,54.24V58.60M235.40,52.71V57.41M235.80,53.69V57.53M236.20,54.83V58.33M236.60,53.34V57.68M237.00,54.33V58.31M237.40,54.27V58.27M237.80,53.75V57.36M238.20,54.49V57.34M238.60,54.64V59.04M239.00,53.11V60.15M239.40,54.18V57.91M239.80,54.67V57.71M240.20,54.53V57.61M240.60,51.45V57.50M241.00,53.08V58.11M241.40,54.38V58.19M241.80,53.15V57.56M242.20,54.55V57.42M242.60,54.50V57.53M243.00,53.34V58.13M243.40,53.57V59.08M243.80,54.06V57.70M244.20,53.69V57.25M244.60,54.54V58.22M245.00,52.63V57.74M245.40,54.73V58.38M245.80,54.04V58.74M246.20,55.21V58.68M246.60,56.27V59.18M247.00,55.86V59.22M247.40,56.57V59.54M247.80,57.06V60.15" stroke-width="1.00"/>
<path d="M384.30,43.27V56.08M384.60,47.32V56.20M384.90,43.72V55.27M385.20,46.03V54.43M385.50,46.33V54.38M385.80,43.60V54.84M386.10,46.70V56.51M386.40,47.44V55.26M386.70,46.78V55.25M387.00,47.40V56.25M387.30,45.34V55.62M387.60,46.94V55.09M387.90,45.44V55.18M388.20,46.72V54.85M388.50,45.90V56.00M388.80,43.74V55.82M389.10,46.98V55.75M389.40,46.17V58.25M389.70,47.55V54.92M390.00,46.86V55.30M390.30,47.46V56.29M390.60,47.35V56.46M390.90,46.52V56.23M391.20,45.85V54.99M391.50,45.79V56.74M391.80,47.84V56.44M392.10,47.72V54.96M392.40,46.76V55.25M392.70,44.89V57.04M393.00,46.31V55.00M393.30,47.14V56.17M393.60,46.72V55.34M393.90,47.86V55.08M394.20,45.93V55.44M394.50,47.67V59.49M394.80,47.26V55.94M395.10,47.90V58.13M395.40,47.37V55.83M395.70,45.92V57.08M396.00,47.71V57.16M396.30,46.93V56.11M396.60,47.86V54.87M396.90,47.70V55.06M397.20,45.30V58.13M397.50,47.13V55.27M397.80,45.23V56.44M398.10,46.93V54.27M398.40,47.80V56.60M398.70,43.16V55.17M399.00,44.56V57.88M399.30,44.66V55.92M399.60,47.31V54.83" stroke-width="0.55"/>
<path d="M53.50,250.49V259.13M53.90,251.22V259.43M54.30,251.93V258.73M54.70,250.29V260.12M55.10,250.38V258.74M55.50,251.30V259.37M55.90,250.78V258.92M56.30,251.71V258.89M56.70,250.99V260.63M57.10,251.11V258.65M57.50,251.31V258.40M57.90,251.36V258.47M58.30,250.98V258.71M58.70,251.25V258.37M59.10,250.60V260.92M59.50,251.26V259.42M59.90,250.08V259.12M60.30,250.64V260.03M60.70,250.99V259.16M61.10,248.55V258.99M61.50,251.04V260.63M61.90,251.18V258.87M62.30,248.53V261.66M62.70,249.70V258.67M63.10,250.11V262.35M63.50,250.08V258.68M63.90,248.48V260.18M64.30,251.06V260.93M64.70,250.75V258.60M65.10,250.34V259.47M65.50,251.08V259.40M65.90,249.73V261.64M66.30,250.55V259.33M66.70,248.63V259.08M67.10,250.05V259.52M67.50,251.12V259.25M67.90,249.05V258.98M68.30,250.81V260.00M68.70,251.11V259.34M69.10,248.74V259.68M69.50,250.35V259.95M69.90,251.52V258.86M70.30,251.22V258.86M70.70,249.67V259.55M71.10,250.32V259.36M71.50,251.37V259.14M71.90,250.80V260.21M72.30,249.26V260.16M72.70,249.93V259.84M73.10,251.13V262.34M73.50,250.53V258.61M73.90,251.16V259.53M74.30,249.47V258.76M74.70,248.42V259.63M75.10,249.38V259.60M75.50,249.47V259.24M75.90,250.28V258.54M76.30,250.72V259.29M76.70,250.96V259.43M77.10,250.94V261.73M77.50,250.11V258.08M77.90,251.38V258.34M78.30,251.24V258.54M78.70,249.80V258.01M79.10,250.03V257.84M79.50,250.07V257.94M79.90,249.99V261.27M80.30,248.93V260.63M80.70,250.01V257.77M81.10,250.82V259.95M81.50,251.26V258.95M81.90,250.68V258.46M82.30,248.06V258.86M82.70,251.15V258.52M83.10,249.87V257.54M83.50,250.83V257.24M83.90,249.33V257.56M84.30,251.18V257.64M84.70,251.19V258.02M85.10,250.06V257.06M85.50,250.97V257.06" stroke-width="1.00"/>
<path d="M242.30,248.37V254.65M242.70,247.89V254.63M243.10,247.68V254.62M243.50,247.52V254.74M243.90,247.46V255.25M244.30,248.08V255.09M244.70,247.80V254.64M245.10,248.14V255.15M245.50,246.30V254.49M245.90,247.42V255.22M246.30,248.22V254.92M246.70,247.71V255.07M247.10,247.50V255.20M247.50,246.88V256.19M247.90,246.54V254.69M248.30,247.63V254.76M248.70,248.05V255.21M249.10,247.71V255.94M249.50,247.82V255.16M249.90,248.13V255.19M250.30,247.26V255.37M250.70,247.91V255.48M251.10,247.76V254.39M251.50,248.20V254.28M251.90,247.43V254.91M252.30,246.95V256.02M252.70,248.33V254.36M253.10,248.14V254.35M253.50,248.46V253.77" stroke-width="1.00"/>
<path d="M392.80,245.07V253.88M393.20,245.50V253.93M393.60,244.61V254.34M394.00,245.71V253.35M394.40,246.07V253.89M394.80,245.23V254.43M395.20,245.26V252.66M395.60,246.22V254.66M396.00,244.26V253.02M396.40,246.25V252.88M396.80,245.46V253.29M397.20,245.77V255.15M397.60,245.69V252.77M398.00,246.10V254.47M398.40,244.74V252.69M398.80,246.27V253.47M399.20,245.80V253.86M399.60,244.65V254.01M400.00,245.57V252.93M400.40,244.87V254.06M400.80,246.35V252.75M401.20,245.90V253.48M401.60,245.87V253.77M402.00,245.07V253.07M402.40,245.03V253.46M402.80,245.68V253.40M403.20,245.76V253.56M403.60,246.04V254.45M404.00,244.70V253.27M404.40,245.78V253.09M404.80,245.30V252.90M405.20,245.16V252.83M405.60,244.91V252.72M406.00,245.05V254.33M406.40,245.06V253.25M406.80,245.67V254.85M407.20,245.28V252.66M407.60,244.80V254.44M408.00,245.38V252.73M408.40,244.72V254.08" stroke-width="1.00"/>
</g>
<g fill="#000"><line x1="65.5" y1="44.2" x2="65.5" y2="67.5" stroke="#000" stroke-width="0.9"/>
<line x1="61.5" y1="46.5" x2="61.5" y2="62.5" stroke="#000" stroke-width="0.7"/>
<line x1="71.0" y1="46.0" x2="71.0" y2="63.0" stroke="#000" stroke-width="0.7"/>
<path d="M231.9,57.0 L233.1,42.7 L234.3,57.0 Z"/>
<line x1="233.3" y1="52.0" x2="233.3" y2="60.5" stroke="#000" stroke-width="0.8"/>
<line x1="246.5" y1="56.0" x2="246.5" y2="63.4" stroke="#000" stroke-width="1.1"/>
<line x1="388.2" y1="32.3" x2="388.2" y2="52.0" stroke="#000" stroke-width="1.0"/>
<line x1="386.0" y1="40.0" x2="386.0" y2="57.0" stroke="#000" stroke-width="0.8"/>
<line x1="83.3" y1="238.5" x2="83.3" y2="263.3" stroke="#000" stroke-width="1.1"/>
<line x1="65.0" y1="246.8" x2="65.0" y2="261.0" stroke="#000" stroke-width="0.7"/>
<line x1="249.8" y1="242.6" x2="249.8" y2="253.0" stroke="#000" stroke-width="0.8"/>
<line x1="244.0" y1="245.0" x2="244.0" y2="257.5" stroke="#000" stroke-width="0.8"/>
<line x1="393.2" y1="241.0" x2="393.2" y2="258.5" stroke="#000" stroke-width="1.1"/>
<line x1="407.5" y1="241.0" x2="407.5" y2="258.5" stroke="#000" stroke-width="1.0"/></g>
<line x1="45.0" y1="66.9" x2="45.0" y2="100" stroke="#000" stroke-width="1.1"/>
<path d="M42.4,98.6 L47.8,98.6 L45.1,104.8 Z"/>
<path d="M58.2,97.3 L58.2,92.5 L91.6,92.5 L91.6,97.3 M74.8,92.5 L74.8,96.6" fill="none" stroke="#000" stroke-width="1.05"/>
<g>
<text x="75.44" y="24.30" font-size="10.70" textLength="3.87" lengthAdjust="spacingAndGlyphs" stroke="#000" stroke-width="0.12">0</text>
<text x="79.55" y="24.30" font-size="10.70" textLength="3.41" lengthAdjust="spacingAndGlyphs" stroke="#000" stroke-width="0.12">.</text>
<text x="82.30" y="24.30" font-size="10.70" textLength="5.62" lengthAdjust="spacingAndGlyphs" stroke="#000" stroke-width="0.12">2</text>
<text x="90.79" y="24.30" font-size="10.70" textLength="3.95" lengthAdjust="spacingAndGlyphs" stroke="#000" stroke-width="0.12">&#181;</text>
<text x="95.02" y="24.30" font-size="10.70" textLength="5.97" lengthAdjust="spacingAndGlyphs" stroke="#000" stroke-width="0.12">g</text>
<text x="101.50" y="24.30" font-size="10.70" textLength="4.47" lengthAdjust="spacingAndGlyphs" stroke="#000" stroke-width="0.12">/</text>
<text x="107.03" y="24.30" font-size="10.70" textLength="8.41" lengthAdjust="spacingAndGlyphs" stroke="#000" stroke-width="0.12">m</text>
<text x="115.42" y="24.30" font-size="10.70" textLength="6.76" lengthAdjust="spacingAndGlyphs" stroke="#000" stroke-width="0.12">L</text>
<text x="250.17" y="24.20" font-size="10.70" textLength="5.14" lengthAdjust="spacingAndGlyphs" stroke="#000" stroke-width="0.12">1</text>
<text x="257.89" y="24.20" font-size="10.70" textLength="4.07" lengthAdjust="spacingAndGlyphs" stroke="#000" stroke-width="0.12">&#181;</text>
<text x="262.90" y="24.20" font-size="10.70" textLength="6.25" lengthAdjust="spacingAndGlyphs" stroke="#000" stroke-width="0.12">g</text>
<text x="269.70" y="24.20" font-size="10.70" textLength="3.87" lengthAdjust="spacingAndGlyphs" stroke="#000" stroke-width="0.12">/</text>
<text x="274.89" y="24.20" font-size="10.70" textLength="7.99" lengthAdjust="spacingAndGlyphs" stroke="#000" stroke-width="0.12">m</text>
<text x="282.71" y="24.20" font-size="10.70" textLength="7.99" lengthAdjust="spacingAndGlyphs" stroke="#000" stroke-width="0.12">L</text>
<text x="409.24" y="24.10" font-size="10.70" textLength="5.50" lengthAdjust="spacingAndGlyphs" stroke="#000" stroke-width="0.12">5</text>
<text x="417.31" y="24.10" font-size="10.70" textLength="3.62" lengthAdjust="spacingAndGlyphs" stroke="#000" stroke-width="0.12">&#181;</text>
<text x="421.90" y="24.10" font-size="10.70" textLength="6.25" lengthAdjust="spacingAndGlyphs" stroke="#000" stroke-width="0.12">g</text>
<text x="428.80" y="24.10" font-size="10.70" textLength="3.87" lengthAdjust="spacingAndGlyphs" stroke="#000" stroke-width="0.12">/</text>
<text x="433.91" y="24.10" font-size="10.70" textLength="7.57" lengthAdjust="spacingAndGlyphs" stroke="#000" stroke-width="0.12">m</text>
<text x="441.08" y="24.10" font-size="10.70" textLength="8.46" lengthAdjust="spacingAndGlyphs" stroke="#000" stroke-width="0.12">L</text>
<text x="75.67" y="212.40" font-size="10.20" textLength="4.17" lengthAdjust="spacingAndGlyphs" stroke="#000" stroke-width="0.12">0</text>
<text x="79.55" y="212.40" font-size="10.20" textLength="3.41" lengthAdjust="spacingAndGlyphs" stroke="#000" stroke-width="0.12">.</text>
<text x="82.67" y="212.40" font-size="10.20" textLength="4.17" lengthAdjust="spacingAndGlyphs" stroke="#000" stroke-width="0.12">0</text>
<text x="87.51" y="212.40" font-size="10.20" textLength="4.88" lengthAdjust="spacingAndGlyphs" stroke="#000" stroke-width="0.12">3</text>
<text x="95.84" y="212.40" font-size="10.20" textLength="5.84" lengthAdjust="spacingAndGlyphs" stroke="#000" stroke-width="0.12">U</text>
<text x="103.75" y="212.40" font-size="10.20" textLength="3.23" lengthAdjust="spacingAndGlyphs" stroke="#000" stroke-width="0.12">/</text>
<text x="108.53" y="212.40" font-size="10.20" textLength="8.41" lengthAdjust="spacingAndGlyphs" stroke="#000" stroke-width="0.12">m</text>
<text x="116.86" y="212.40" font-size="10.20" textLength="7.93" lengthAdjust="spacingAndGlyphs" stroke="#000" stroke-width="0.12">L</text>
<text x="250.67" y="212.30" font-size="10.20" textLength="4.17" lengthAdjust="spacingAndGlyphs" stroke="#000" stroke-width="0.12">0</text>
<text x="254.55" y="212.30" font-size="10.20" textLength="3.41" lengthAdjust="spacingAndGlyphs" stroke="#000" stroke-width="0.12">.</text>
<text x="257.67" y="212.30" font-size="10.20" textLength="4.17" lengthAdjust="spacingAndGlyphs" stroke="#000" stroke-width="0.12">0</text>
<text x="262.60" y="212.30" font-size="10.20" textLength="4.94" lengthAdjust="spacingAndGlyphs" stroke="#000" stroke-width="0.12">6</text>
<text x="271.35" y="212.30" font-size="10.20" textLength="5.58" lengthAdjust="spacingAndGlyphs" stroke="#000" stroke-width="0.12">U</text>
<text x="279.00" y="212.30" font-size="10.20" textLength="3.72" lengthAdjust="spacingAndGlyphs" stroke="#000" stroke-width="0.12">/</text>
<text x="284.28" y="212.30" font-size="10.20" textLength="8.41" lengthAdjust="spacingAndGlyphs" stroke="#000" stroke-width="0.12">m</text>
<text x="292.65" y="212.30" font-size="10.20" textLength="7.05" lengthAdjust="spacingAndGlyphs" stroke="#000" stroke-width="0.12">L</text>
<text x="409.68" y="212.20" font-size="10.20" textLength="5.24" lengthAdjust="spacingAndGlyphs" stroke="#000" stroke-width="0.12">0</text>
<text x="414.71" y="212.20" font-size="10.20" textLength="3.18" lengthAdjust="spacingAndGlyphs" stroke="#000" stroke-width="0.12">.</text>
<text x="417.38" y="212.20" font-size="10.20" textLength="4.57" lengthAdjust="spacingAndGlyphs" stroke="#000" stroke-width="0.12">1</text>
<text x="425.63" y="212.20" font-size="10.20" textLength="6.05" lengthAdjust="spacingAndGlyphs" stroke="#000" stroke-width="0.12">U</text>
<text x="433.25" y="212.20" font-size="10.20" textLength="3.47" lengthAdjust="spacingAndGlyphs" stroke="#000" stroke-width="0.12">/</text>
<text x="438.53" y="212.20" font-size="10.20" textLength="8.41" lengthAdjust="spacingAndGlyphs" stroke="#000" stroke-width="0.12">m</text>
<text x="446.89" y="212.20" font-size="10.20" textLength="7.34" lengthAdjust="spacingAndGlyphs" stroke="#000" stroke-width="0.12">L</text>
<text x="0.34" y="24.20" font-size="11.80" textLength="6.36" lengthAdjust="spacingAndGlyphs" stroke="#000" stroke-width="0.12">+</text>
<text x="6.42" y="24.20" font-size="11.80" textLength="7.96" lengthAdjust="spacingAndGlyphs" stroke="#000" stroke-width="0.12">C</text>
<text x="13.67" y="24.20" font-size="11.80" textLength="7.30" lengthAdjust="spacingAndGlyphs" stroke="#000" stroke-width="0.12">R</text>
<text x="20.94" y="24.20" font-size="11.80" textLength="8.51" lengthAdjust="spacingAndGlyphs" stroke="#000" stroke-width="0.12">P</text>
<text x="6.01" y="212.70" font-size="11.80" textLength="6.60" lengthAdjust="spacingAndGlyphs" stroke="#000" stroke-width="0.12">+</text>
<text x="12.46" y="212.70" font-size="11.80" textLength="7.29" lengthAdjust="spacingAndGlyphs" stroke="#000" stroke-width="0.12">T</text>
<text x="19.28" y="212.70" font-size="11.80" textLength="5.94" lengthAdjust="spacingAndGlyphs" stroke="#000" stroke-width="0.12">h</text>
<text x="24.88" y="212.70" font-size="11.80" textLength="5.33" lengthAdjust="spacingAndGlyphs" stroke="#000" stroke-width="0.12">r</text>
<text x="146.39" y="57.70" font-size="11.90" textLength="8.12" lengthAdjust="spacingAndGlyphs" stroke="#000" stroke-width="0.2">V</text>
<text x="154.25" y="57.70" font-size="11.90" textLength="5.78" lengthAdjust="spacingAndGlyphs" stroke="#000" stroke-width="0.2">a</text>
<text x="159.85" y="57.70" font-size="11.90" textLength="5.28" lengthAdjust="spacingAndGlyphs" stroke="#000" stroke-width="0.2">v</text>
<text x="165.39" y="57.70" font-size="11.90" textLength="4.79" lengthAdjust="spacingAndGlyphs" stroke="#000" stroke-width="0.2">1</text>
<text x="336.69" y="107.80" font-size="11.90" textLength="8.01" lengthAdjust="spacingAndGlyphs" stroke="#000" stroke-width="0.2">V</text>
<text x="344.45" y="107.80" font-size="11.90" textLength="5.70" lengthAdjust="spacingAndGlyphs" stroke="#000" stroke-width="0.2">a</text>
<text x="349.98" y="107.80" font-size="11.90" textLength="5.21" lengthAdjust="spacingAndGlyphs" stroke="#000" stroke-width="0.2">v</text>
<text x="355.44" y="107.80" font-size="11.90" textLength="4.72" lengthAdjust="spacingAndGlyphs" stroke="#000" stroke-width="0.2">1</text>
<text x="484.89" y="143.40" font-size="11.90" textLength="7.98" lengthAdjust="spacingAndGlyphs" stroke="#000" stroke-width="0.2">V</text>
<text x="492.62" y="143.40" font-size="11.90" textLength="5.68" lengthAdjust="spacingAndGlyphs" stroke="#000" stroke-width="0.2">a</text>
<text x="498.12" y="143.40" font-size="11.90" textLength="5.19" lengthAdjust="spacingAndGlyphs" stroke="#000" stroke-width="0.2">v</text>
<text x="503.56" y="143.40" font-size="11.90" textLength="4.70" lengthAdjust="spacingAndGlyphs" stroke="#000" stroke-width="0.2">1</text>
<text x="165.69" y="240.60" font-size="11.90" textLength="7.98" lengthAdjust="spacingAndGlyphs" stroke="#000" stroke-width="0.2">V</text>
<text x="173.42" y="240.60" font-size="11.90" textLength="5.68" lengthAdjust="spacingAndGlyphs" stroke="#000" stroke-width="0.2">a</text>
<text x="178.92" y="240.60" font-size="11.90" textLength="5.19" lengthAdjust="spacingAndGlyphs" stroke="#000" stroke-width="0.2">v</text>
<text x="184.36" y="240.60" font-size="11.90" textLength="4.70" lengthAdjust="spacingAndGlyphs" stroke="#000" stroke-width="0.2">1</text>
<text x="342.89" y="320.70" font-size="11.90" textLength="8.05" lengthAdjust="spacingAndGlyphs" stroke="#000" stroke-width="0.2">V</text>
<text x="350.69" y="320.70" font-size="11.90" textLength="5.73" lengthAdjust="spacingAndGlyphs" stroke="#000" stroke-width="0.2">a</text>
<text x="356.24" y="320.70" font-size="11.90" textLength="5.23" lengthAdjust="spacingAndGlyphs" stroke="#000" stroke-width="0.2">v</text>
<text x="361.72" y="320.70" font-size="11.90" textLength="4.75" lengthAdjust="spacingAndGlyphs" stroke="#000" stroke-width="0.2">1</text>
<text x="488.09" y="303.70" font-size="11.90" textLength="7.84" lengthAdjust="spacingAndGlyphs" stroke="#000" stroke-width="0.2">V</text>
<text x="495.69" y="303.70" font-size="11.90" textLength="5.58" lengthAdjust="spacingAndGlyphs" stroke="#000" stroke-width="0.2">a</text>
<text x="501.09" y="303.70" font-size="11.90" textLength="5.10" lengthAdjust="spacingAndGlyphs" stroke="#000" stroke-width="0.2">v</text>
<text x="506.43" y="303.70" font-size="11.90" textLength="4.62" lengthAdjust="spacingAndGlyphs" stroke="#000" stroke-width="0.2">1</text>
<text x="30.37" y="9.70" font-size="12.00" textLength="3.24" lengthAdjust="spacingAndGlyphs" stroke="#000" stroke-width="0.12">i</text>
<text x="211.66" y="9.60" font-size="12.00" textLength="6.63" lengthAdjust="spacingAndGlyphs" stroke="#000" stroke-width="0.12">ii</text>
<text x="365.55" y="9.60" font-size="12.00" textLength="10.55" lengthAdjust="spacingAndGlyphs" stroke="#000" stroke-width="0.12">iii</text>
<text x="30.06" y="198.80" font-size="12.00" textLength="9.32" lengthAdjust="spacingAndGlyphs" stroke="#000" stroke-width="0.12">iv</text>
<text x="211.90" y="198.70" font-size="12.00" textLength="5.30" lengthAdjust="spacingAndGlyphs" stroke="#000" stroke-width="0.12">v</text>
<text x="380.70" y="198.90" font-size="12.00" textLength="9.21" lengthAdjust="spacingAndGlyphs" stroke="#000" stroke-width="0.12">vi</text>
<text x="57.70" y="105.80" font-size="8.90" textLength="3.81" lengthAdjust="spacingAndGlyphs" stroke="#000" stroke-width="0.2">0</text>
<text x="86.35" y="105.80" font-size="8.90" textLength="14.19" lengthAdjust="spacingAndGlyphs" stroke="#000" stroke-width="0.2">60 s</text>
<text x="170.48" y="55.23" font-size="6.60" textLength="7.49" lengthAdjust="spacingAndGlyphs" stroke="#000" stroke-width="0.15">-/-</text>
<text x="360.48" y="103.73" font-size="6.60" textLength="7.49" lengthAdjust="spacingAndGlyphs" stroke="#000" stroke-width="0.15">-/-</text>
<text x="508.48" y="139.73" font-size="6.60" textLength="7.59" lengthAdjust="spacingAndGlyphs" stroke="#000" stroke-width="0.15">-/-</text>
<text x="189.30" y="237.43" font-size="6.60" textLength="7.16" lengthAdjust="spacingAndGlyphs" stroke="#000" stroke-width="0.15">-/-</text>
<text x="366.14" y="317.23" font-size="6.60" textLength="8.57" lengthAdjust="spacingAndGlyphs" stroke="#000" stroke-width="0.15">-/-</text>
<text x="512.41" y="300.63" font-size="6.60" textLength="6.73" lengthAdjust="spacingAndGlyphs" stroke="#000" stroke-width="0.15">-/-</text>
<text x="0" y="0" font-size="10.8" transform="translate(39.4,122.84) rotate(-90)" textLength="66.7" lengthAdjust="spacingAndGlyphs" stroke="#000" stroke-width="0.15">Optical density</text>
</g>
</svg>
</body></html>
